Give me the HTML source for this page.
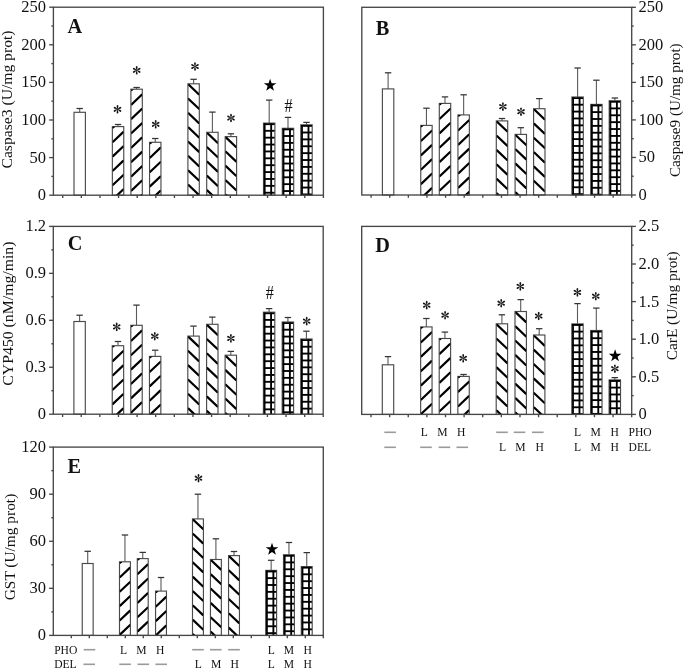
<!DOCTYPE html>
<html><head><meta charset="utf-8"><title>Figure</title>
<style>html,body{margin:0;padding:0;background:#fff;}svg{display:block;filter:grayscale(1) blur(0.3px);}</style>
</head><body><svg width="685" height="669" viewBox="0 0 685 669" font-family='"Liberation Serif", serif' fill="#111"><line x1="79.70" y1="112.30" x2="79.70" y2="108.50" stroke="#5a5a5a" stroke-width="1.1"/><line x1="76.50" y1="108.50" x2="82.90" y2="108.50" stroke="#333" stroke-width="1.25"/><rect x="74.00" y="112.30" width="11.40" height="82.90" fill="#fff" stroke="#4a4a4a" stroke-width="1.15"/><line x1="118.05" y1="126.60" x2="118.05" y2="124.50" stroke="#5a5a5a" stroke-width="1.1"/><line x1="114.85" y1="124.50" x2="121.25" y2="124.50" stroke="#333" stroke-width="1.25"/><rect x="112.35" y="126.60" width="11.40" height="68.60" fill="#fff" stroke="#4a4a4a" stroke-width="1.15"/><clipPath id="c1"><rect x="112.65" y="126.80" width="10.80" height="68.40"/></clipPath><g clip-path="url(#c1)" stroke="#000" stroke-width="2.2" stroke-linecap="round"><line x1="113.05" y1="127.40" x2="123.15" y2="117.80"/><line x1="113.05" y1="141.75" x2="123.15" y2="132.16"/><line x1="113.05" y1="156.10" x2="123.15" y2="146.50"/><line x1="113.05" y1="170.45" x2="123.15" y2="160.85"/><line x1="113.05" y1="184.80" x2="123.15" y2="175.20"/><line x1="113.05" y1="199.15" x2="123.15" y2="189.55"/><line x1="113.05" y1="213.50" x2="123.15" y2="203.90"/></g><line x1="136.60" y1="89.20" x2="136.60" y2="87.50" stroke="#5a5a5a" stroke-width="1.1"/><line x1="133.40" y1="87.50" x2="139.80" y2="87.50" stroke="#333" stroke-width="1.25"/><rect x="130.90" y="89.20" width="11.40" height="106.00" fill="#fff" stroke="#4a4a4a" stroke-width="1.15"/><clipPath id="c2"><rect x="131.20" y="89.40" width="10.80" height="105.80"/></clipPath><g clip-path="url(#c2)" stroke="#000" stroke-width="2.2" stroke-linecap="round"><line x1="131.60" y1="90.00" x2="141.70" y2="80.41"/><line x1="131.60" y1="104.35" x2="141.70" y2="94.75"/><line x1="131.60" y1="118.70" x2="141.70" y2="109.10"/><line x1="131.60" y1="133.05" x2="141.70" y2="123.45"/><line x1="131.60" y1="147.40" x2="141.70" y2="137.80"/><line x1="131.60" y1="161.75" x2="141.70" y2="152.15"/><line x1="131.60" y1="176.10" x2="141.70" y2="166.50"/><line x1="131.60" y1="190.45" x2="141.70" y2="180.85"/><line x1="131.60" y1="204.80" x2="141.70" y2="195.20"/></g><line x1="155.25" y1="142.30" x2="155.25" y2="138.50" stroke="#5a5a5a" stroke-width="1.1"/><line x1="152.05" y1="138.50" x2="158.45" y2="138.50" stroke="#333" stroke-width="1.25"/><rect x="149.55" y="142.30" width="11.40" height="52.90" fill="#fff" stroke="#4a4a4a" stroke-width="1.15"/><clipPath id="c3"><rect x="149.85" y="142.50" width="10.80" height="52.70"/></clipPath><g clip-path="url(#c3)" stroke="#000" stroke-width="2.2" stroke-linecap="round"><line x1="150.25" y1="143.10" x2="160.35" y2="133.51"/><line x1="150.25" y1="157.45" x2="160.35" y2="147.86"/><line x1="150.25" y1="171.80" x2="160.35" y2="162.21"/><line x1="150.25" y1="186.15" x2="160.35" y2="176.56"/><line x1="150.25" y1="200.50" x2="160.35" y2="190.91"/><line x1="150.25" y1="214.85" x2="160.35" y2="205.25"/></g><line x1="193.60" y1="83.80" x2="193.60" y2="79.30" stroke="#5a5a5a" stroke-width="1.1"/><line x1="190.40" y1="79.30" x2="196.80" y2="79.30" stroke="#333" stroke-width="1.25"/><rect x="187.90" y="83.80" width="11.40" height="111.40" fill="#fff" stroke="#4a4a4a" stroke-width="1.15"/><clipPath id="c4"><rect x="188.20" y="84.00" width="10.80" height="111.20"/></clipPath><g clip-path="url(#c4)" stroke="#000" stroke-width="2.2" stroke-linecap="round"><line x1="188.60" y1="84.60" x2="198.70" y2="94.19"/><line x1="188.60" y1="98.95" x2="198.70" y2="108.54"/><line x1="188.60" y1="113.30" x2="198.70" y2="122.89"/><line x1="188.60" y1="127.65" x2="198.70" y2="137.24"/><line x1="188.60" y1="142.00" x2="198.70" y2="151.59"/><line x1="188.60" y1="156.35" x2="198.70" y2="165.94"/><line x1="188.60" y1="170.70" x2="198.70" y2="180.29"/><line x1="188.60" y1="185.05" x2="198.70" y2="194.64"/><line x1="188.60" y1="199.40" x2="198.70" y2="208.99"/><line x1="188.60" y1="213.75" x2="198.70" y2="223.34"/></g><line x1="212.40" y1="132.30" x2="212.40" y2="112.10" stroke="#5a5a5a" stroke-width="1.1"/><line x1="209.20" y1="112.10" x2="215.60" y2="112.10" stroke="#333" stroke-width="1.25"/><rect x="206.70" y="132.30" width="11.40" height="62.90" fill="#fff" stroke="#4a4a4a" stroke-width="1.15"/><clipPath id="c5"><rect x="207.00" y="132.50" width="10.80" height="62.70"/></clipPath><g clip-path="url(#c5)" stroke="#000" stroke-width="2.2" stroke-linecap="round"><line x1="207.40" y1="133.10" x2="217.50" y2="142.70"/><line x1="207.40" y1="147.45" x2="217.50" y2="157.05"/><line x1="207.40" y1="161.80" x2="217.50" y2="171.40"/><line x1="207.40" y1="176.15" x2="217.50" y2="185.75"/><line x1="207.40" y1="190.50" x2="217.50" y2="200.09"/><line x1="207.40" y1="204.85" x2="217.50" y2="214.44"/></g><line x1="230.90" y1="136.60" x2="230.90" y2="133.80" stroke="#5a5a5a" stroke-width="1.1"/><line x1="227.70" y1="133.80" x2="234.10" y2="133.80" stroke="#333" stroke-width="1.25"/><rect x="225.20" y="136.60" width="11.40" height="58.60" fill="#fff" stroke="#4a4a4a" stroke-width="1.15"/><clipPath id="c6"><rect x="225.50" y="136.80" width="10.80" height="58.40"/></clipPath><g clip-path="url(#c6)" stroke="#000" stroke-width="2.2" stroke-linecap="round"><line x1="225.90" y1="137.40" x2="236.00" y2="147.00"/><line x1="225.90" y1="151.75" x2="236.00" y2="161.34"/><line x1="225.90" y1="166.10" x2="236.00" y2="175.69"/><line x1="225.90" y1="180.45" x2="236.00" y2="190.04"/><line x1="225.90" y1="194.80" x2="236.00" y2="204.39"/><line x1="225.90" y1="209.15" x2="236.00" y2="218.74"/></g><line x1="269.20" y1="123.10" x2="269.20" y2="100.10" stroke="#5a5a5a" stroke-width="1.1"/><line x1="266.00" y1="100.10" x2="272.40" y2="100.10" stroke="#333" stroke-width="1.25"/><rect x="263.50" y="123.10" width="11.40" height="72.10" fill="#fff" stroke="#4a4a4a" stroke-width="1.15"/><clipPath id="c7"><rect x="263.80" y="123.30" width="10.80" height="71.90"/></clipPath><g clip-path="url(#c7)"><rect x="263.50" y="122.80" width="11.40" height="2.30" fill="#000"/><rect x="263.50" y="129.88" width="11.40" height="1.85" fill="#000"/><rect x="263.50" y="136.76" width="11.40" height="1.85" fill="#000"/><rect x="263.50" y="143.64" width="11.40" height="1.85" fill="#000"/><rect x="263.50" y="150.52" width="11.40" height="1.85" fill="#000"/><rect x="263.50" y="157.40" width="11.40" height="1.85" fill="#000"/><rect x="263.50" y="164.28" width="11.40" height="1.85" fill="#000"/><rect x="263.50" y="171.16" width="11.40" height="1.85" fill="#000"/><rect x="263.50" y="178.04" width="11.40" height="1.85" fill="#000"/><rect x="263.50" y="184.92" width="11.40" height="1.85" fill="#000"/><rect x="263.50" y="191.80" width="11.40" height="1.85" fill="#000"/><rect x="263.20" y="123.10" width="2.40" height="72.10" fill="#000"/><rect x="270.25" y="123.10" width="1.85" height="72.10" fill="#000"/></g><line x1="288.00" y1="128.30" x2="288.00" y2="117.40" stroke="#5a5a5a" stroke-width="1.1"/><line x1="284.80" y1="117.40" x2="291.20" y2="117.40" stroke="#333" stroke-width="1.25"/><rect x="282.30" y="128.30" width="11.40" height="66.90" fill="#fff" stroke="#4a4a4a" stroke-width="1.15"/><clipPath id="c8"><rect x="282.60" y="128.50" width="10.80" height="66.70"/></clipPath><g clip-path="url(#c8)"><rect x="282.30" y="128.00" width="11.40" height="2.30" fill="#000"/><rect x="282.30" y="135.08" width="11.40" height="1.85" fill="#000"/><rect x="282.30" y="141.96" width="11.40" height="1.85" fill="#000"/><rect x="282.30" y="148.84" width="11.40" height="1.85" fill="#000"/><rect x="282.30" y="155.72" width="11.40" height="1.85" fill="#000"/><rect x="282.30" y="162.60" width="11.40" height="1.85" fill="#000"/><rect x="282.30" y="169.48" width="11.40" height="1.85" fill="#000"/><rect x="282.30" y="176.36" width="11.40" height="1.85" fill="#000"/><rect x="282.30" y="183.24" width="11.40" height="1.85" fill="#000"/><rect x="282.30" y="190.12" width="11.40" height="1.85" fill="#000"/><rect x="282.00" y="128.30" width="2.40" height="66.90" fill="#000"/><rect x="289.05" y="128.30" width="1.85" height="66.90" fill="#000"/></g><line x1="306.50" y1="124.80" x2="306.50" y2="122.40" stroke="#5a5a5a" stroke-width="1.1"/><line x1="303.30" y1="122.40" x2="309.70" y2="122.40" stroke="#333" stroke-width="1.25"/><rect x="300.80" y="124.80" width="11.40" height="70.40" fill="#fff" stroke="#4a4a4a" stroke-width="1.15"/><clipPath id="c9"><rect x="301.10" y="125.00" width="10.80" height="70.20"/></clipPath><g clip-path="url(#c9)"><rect x="300.80" y="124.50" width="11.40" height="2.30" fill="#000"/><rect x="300.80" y="131.58" width="11.40" height="1.85" fill="#000"/><rect x="300.80" y="138.46" width="11.40" height="1.85" fill="#000"/><rect x="300.80" y="145.34" width="11.40" height="1.85" fill="#000"/><rect x="300.80" y="152.22" width="11.40" height="1.85" fill="#000"/><rect x="300.80" y="159.10" width="11.40" height="1.85" fill="#000"/><rect x="300.80" y="165.98" width="11.40" height="1.85" fill="#000"/><rect x="300.80" y="172.86" width="11.40" height="1.85" fill="#000"/><rect x="300.80" y="179.74" width="11.40" height="1.85" fill="#000"/><rect x="300.80" y="186.62" width="11.40" height="1.85" fill="#000"/><rect x="300.80" y="193.50" width="11.40" height="1.85" fill="#000"/><rect x="300.50" y="124.80" width="2.40" height="70.40" fill="#000"/><rect x="307.55" y="124.80" width="1.85" height="70.40" fill="#000"/></g><rect x="53.40" y="7.20" width="270.00" height="188.00" fill="none" stroke="#474747" stroke-width="1.35"/><line x1="53.40" y1="195.20" x2="49.20" y2="195.20" stroke="#474747" stroke-width="1.35"/><text x="46.10" y="200.20" text-anchor="end" font-size="16.5">0</text><line x1="53.40" y1="176.40" x2="51.40" y2="176.40" stroke="#474747" stroke-width="1.35"/><line x1="53.40" y1="157.60" x2="49.20" y2="157.60" stroke="#474747" stroke-width="1.35"/><text x="46.10" y="162.60" text-anchor="end" font-size="16.5">50</text><line x1="53.40" y1="138.80" x2="51.40" y2="138.80" stroke="#474747" stroke-width="1.35"/><line x1="53.40" y1="120.00" x2="49.20" y2="120.00" stroke="#474747" stroke-width="1.35"/><text x="46.10" y="125.00" text-anchor="end" font-size="16.5">100</text><line x1="53.40" y1="101.20" x2="51.40" y2="101.20" stroke="#474747" stroke-width="1.35"/><line x1="53.40" y1="82.40" x2="49.20" y2="82.40" stroke="#474747" stroke-width="1.35"/><text x="46.10" y="87.40" text-anchor="end" font-size="16.5">150</text><line x1="53.40" y1="63.60" x2="51.40" y2="63.60" stroke="#474747" stroke-width="1.35"/><line x1="53.40" y1="44.80" x2="49.20" y2="44.80" stroke="#474747" stroke-width="1.35"/><text x="46.10" y="49.80" text-anchor="end" font-size="16.5">200</text><line x1="53.40" y1="26.00" x2="51.40" y2="26.00" stroke="#474747" stroke-width="1.35"/><line x1="53.40" y1="7.20" x2="49.20" y2="7.20" stroke="#474747" stroke-width="1.35"/><text x="46.10" y="12.20" text-anchor="end" font-size="16.5">250</text><line x1="62.71" y1="195.20" x2="62.71" y2="198.00" stroke="#474747" stroke-width="1.35"/><line x1="81.33" y1="195.20" x2="81.33" y2="198.00" stroke="#474747" stroke-width="1.35"/><line x1="99.95" y1="195.20" x2="99.95" y2="198.00" stroke="#474747" stroke-width="1.35"/><line x1="118.57" y1="195.20" x2="118.57" y2="198.00" stroke="#474747" stroke-width="1.35"/><line x1="137.19" y1="195.20" x2="137.19" y2="198.00" stroke="#474747" stroke-width="1.35"/><line x1="155.81" y1="195.20" x2="155.81" y2="198.00" stroke="#474747" stroke-width="1.35"/><line x1="174.43" y1="195.20" x2="174.43" y2="198.00" stroke="#474747" stroke-width="1.35"/><line x1="193.05" y1="195.20" x2="193.05" y2="198.00" stroke="#474747" stroke-width="1.35"/><line x1="211.67" y1="195.20" x2="211.67" y2="198.00" stroke="#474747" stroke-width="1.35"/><line x1="230.29" y1="195.20" x2="230.29" y2="198.00" stroke="#474747" stroke-width="1.35"/><line x1="248.91" y1="195.20" x2="248.91" y2="198.00" stroke="#474747" stroke-width="1.35"/><line x1="267.53" y1="195.20" x2="267.53" y2="198.00" stroke="#474747" stroke-width="1.35"/><line x1="286.15" y1="195.20" x2="286.15" y2="198.00" stroke="#474747" stroke-width="1.35"/><line x1="304.77" y1="195.20" x2="304.77" y2="198.00" stroke="#474747" stroke-width="1.35"/><line x1="323.40" y1="195.20" x2="323.40" y2="198.00" stroke="#474747" stroke-width="1.35"/><text x="67.50" y="32.90" font-size="20.3" font-weight="bold">A</text><text transform="translate(8.80,99.50) rotate(-90)" text-anchor="middle" font-size="15.6" textLength="138.0" lengthAdjust="spacingAndGlyphs" y="3.2">Caspase3 (U/mg prot)</text><g transform="translate(117.50,109.30)" fill="#151515"><path d="M -0.3 -0.6 L -0.85 -2.6 Q -1.15 -4.3 0 -4.3 Q 1.15 -4.3 0.85 -2.6 L 0.3 -0.6 Z" transform="rotate(0)"/><path d="M -0.3 -0.6 L -0.85 -2.6 Q -1.15 -4.3 0 -4.3 Q 1.15 -4.3 0.85 -2.6 L 0.3 -0.6 Z" transform="rotate(60)"/><path d="M -0.3 -0.6 L -0.85 -2.6 Q -1.15 -4.3 0 -4.3 Q 1.15 -4.3 0.85 -2.6 L 0.3 -0.6 Z" transform="rotate(120)"/><path d="M -0.3 -0.6 L -0.85 -2.6 Q -1.15 -4.3 0 -4.3 Q 1.15 -4.3 0.85 -2.6 L 0.3 -0.6 Z" transform="rotate(180)"/><path d="M -0.3 -0.6 L -0.85 -2.6 Q -1.15 -4.3 0 -4.3 Q 1.15 -4.3 0.85 -2.6 L 0.3 -0.6 Z" transform="rotate(240)"/><path d="M -0.3 -0.6 L -0.85 -2.6 Q -1.15 -4.3 0 -4.3 Q 1.15 -4.3 0.85 -2.6 L 0.3 -0.6 Z" transform="rotate(300)"/><circle r="0.8"/></g><g transform="translate(136.70,70.30)" fill="#151515"><path d="M -0.3 -0.6 L -0.85 -2.6 Q -1.15 -4.3 0 -4.3 Q 1.15 -4.3 0.85 -2.6 L 0.3 -0.6 Z" transform="rotate(0)"/><path d="M -0.3 -0.6 L -0.85 -2.6 Q -1.15 -4.3 0 -4.3 Q 1.15 -4.3 0.85 -2.6 L 0.3 -0.6 Z" transform="rotate(60)"/><path d="M -0.3 -0.6 L -0.85 -2.6 Q -1.15 -4.3 0 -4.3 Q 1.15 -4.3 0.85 -2.6 L 0.3 -0.6 Z" transform="rotate(120)"/><path d="M -0.3 -0.6 L -0.85 -2.6 Q -1.15 -4.3 0 -4.3 Q 1.15 -4.3 0.85 -2.6 L 0.3 -0.6 Z" transform="rotate(180)"/><path d="M -0.3 -0.6 L -0.85 -2.6 Q -1.15 -4.3 0 -4.3 Q 1.15 -4.3 0.85 -2.6 L 0.3 -0.6 Z" transform="rotate(240)"/><path d="M -0.3 -0.6 L -0.85 -2.6 Q -1.15 -4.3 0 -4.3 Q 1.15 -4.3 0.85 -2.6 L 0.3 -0.6 Z" transform="rotate(300)"/><circle r="0.8"/></g><g transform="translate(155.70,124.30)" fill="#151515"><path d="M -0.3 -0.6 L -0.85 -2.6 Q -1.15 -4.3 0 -4.3 Q 1.15 -4.3 0.85 -2.6 L 0.3 -0.6 Z" transform="rotate(0)"/><path d="M -0.3 -0.6 L -0.85 -2.6 Q -1.15 -4.3 0 -4.3 Q 1.15 -4.3 0.85 -2.6 L 0.3 -0.6 Z" transform="rotate(60)"/><path d="M -0.3 -0.6 L -0.85 -2.6 Q -1.15 -4.3 0 -4.3 Q 1.15 -4.3 0.85 -2.6 L 0.3 -0.6 Z" transform="rotate(120)"/><path d="M -0.3 -0.6 L -0.85 -2.6 Q -1.15 -4.3 0 -4.3 Q 1.15 -4.3 0.85 -2.6 L 0.3 -0.6 Z" transform="rotate(180)"/><path d="M -0.3 -0.6 L -0.85 -2.6 Q -1.15 -4.3 0 -4.3 Q 1.15 -4.3 0.85 -2.6 L 0.3 -0.6 Z" transform="rotate(240)"/><path d="M -0.3 -0.6 L -0.85 -2.6 Q -1.15 -4.3 0 -4.3 Q 1.15 -4.3 0.85 -2.6 L 0.3 -0.6 Z" transform="rotate(300)"/><circle r="0.8"/></g><g transform="translate(195.00,66.50)" fill="#151515"><path d="M -0.3 -0.6 L -0.85 -2.6 Q -1.15 -4.3 0 -4.3 Q 1.15 -4.3 0.85 -2.6 L 0.3 -0.6 Z" transform="rotate(0)"/><path d="M -0.3 -0.6 L -0.85 -2.6 Q -1.15 -4.3 0 -4.3 Q 1.15 -4.3 0.85 -2.6 L 0.3 -0.6 Z" transform="rotate(60)"/><path d="M -0.3 -0.6 L -0.85 -2.6 Q -1.15 -4.3 0 -4.3 Q 1.15 -4.3 0.85 -2.6 L 0.3 -0.6 Z" transform="rotate(120)"/><path d="M -0.3 -0.6 L -0.85 -2.6 Q -1.15 -4.3 0 -4.3 Q 1.15 -4.3 0.85 -2.6 L 0.3 -0.6 Z" transform="rotate(180)"/><path d="M -0.3 -0.6 L -0.85 -2.6 Q -1.15 -4.3 0 -4.3 Q 1.15 -4.3 0.85 -2.6 L 0.3 -0.6 Z" transform="rotate(240)"/><path d="M -0.3 -0.6 L -0.85 -2.6 Q -1.15 -4.3 0 -4.3 Q 1.15 -4.3 0.85 -2.6 L 0.3 -0.6 Z" transform="rotate(300)"/><circle r="0.8"/></g><g transform="translate(231.00,118.00)" fill="#151515"><path d="M -0.3 -0.6 L -0.85 -2.6 Q -1.15 -4.3 0 -4.3 Q 1.15 -4.3 0.85 -2.6 L 0.3 -0.6 Z" transform="rotate(0)"/><path d="M -0.3 -0.6 L -0.85 -2.6 Q -1.15 -4.3 0 -4.3 Q 1.15 -4.3 0.85 -2.6 L 0.3 -0.6 Z" transform="rotate(60)"/><path d="M -0.3 -0.6 L -0.85 -2.6 Q -1.15 -4.3 0 -4.3 Q 1.15 -4.3 0.85 -2.6 L 0.3 -0.6 Z" transform="rotate(120)"/><path d="M -0.3 -0.6 L -0.85 -2.6 Q -1.15 -4.3 0 -4.3 Q 1.15 -4.3 0.85 -2.6 L 0.3 -0.6 Z" transform="rotate(180)"/><path d="M -0.3 -0.6 L -0.85 -2.6 Q -1.15 -4.3 0 -4.3 Q 1.15 -4.3 0.85 -2.6 L 0.3 -0.6 Z" transform="rotate(240)"/><path d="M -0.3 -0.6 L -0.85 -2.6 Q -1.15 -4.3 0 -4.3 Q 1.15 -4.3 0.85 -2.6 L 0.3 -0.6 Z" transform="rotate(300)"/><circle r="0.8"/></g><polygon points="270.10,78.70 271.63,83.20 276.38,83.26 272.57,86.10 273.98,90.64 270.10,87.90 266.22,90.64 267.63,86.10 263.82,83.26 268.57,83.20" fill="#000"/><text transform="translate(288.50,111.60) scale(0.86,1)" text-anchor="middle" font-size="18.8">#</text><line x1="388.10" y1="88.90" x2="388.10" y2="72.80" stroke="#5a5a5a" stroke-width="1.1"/><line x1="384.90" y1="72.80" x2="391.30" y2="72.80" stroke="#333" stroke-width="1.25"/><rect x="382.40" y="88.90" width="11.40" height="106.10" fill="#fff" stroke="#4a4a4a" stroke-width="1.15"/><line x1="426.45" y1="125.40" x2="426.45" y2="108.20" stroke="#5a5a5a" stroke-width="1.1"/><line x1="423.25" y1="108.20" x2="429.65" y2="108.20" stroke="#333" stroke-width="1.25"/><rect x="420.75" y="125.40" width="11.40" height="69.60" fill="#fff" stroke="#4a4a4a" stroke-width="1.15"/><clipPath id="c10"><rect x="421.05" y="125.60" width="10.80" height="69.40"/></clipPath><g clip-path="url(#c10)" stroke="#000" stroke-width="2.2" stroke-linecap="round"><line x1="421.45" y1="126.20" x2="431.55" y2="116.61"/><line x1="421.45" y1="140.55" x2="431.55" y2="130.96"/><line x1="421.45" y1="154.90" x2="431.55" y2="145.31"/><line x1="421.45" y1="169.25" x2="431.55" y2="159.66"/><line x1="421.45" y1="183.60" x2="431.55" y2="174.01"/><line x1="421.45" y1="197.95" x2="431.55" y2="188.36"/><line x1="421.45" y1="212.30" x2="431.55" y2="202.71"/></g><line x1="445.00" y1="103.40" x2="445.00" y2="96.90" stroke="#5a5a5a" stroke-width="1.1"/><line x1="441.80" y1="96.90" x2="448.20" y2="96.90" stroke="#333" stroke-width="1.25"/><rect x="439.30" y="103.40" width="11.40" height="91.60" fill="#fff" stroke="#4a4a4a" stroke-width="1.15"/><clipPath id="c11"><rect x="439.60" y="103.60" width="10.80" height="91.40"/></clipPath><g clip-path="url(#c11)" stroke="#000" stroke-width="2.2" stroke-linecap="round"><line x1="440.00" y1="104.20" x2="450.10" y2="94.61"/><line x1="440.00" y1="118.55" x2="450.10" y2="108.96"/><line x1="440.00" y1="132.90" x2="450.10" y2="123.31"/><line x1="440.00" y1="147.25" x2="450.10" y2="137.66"/><line x1="440.00" y1="161.60" x2="450.10" y2="152.01"/><line x1="440.00" y1="175.95" x2="450.10" y2="166.36"/><line x1="440.00" y1="190.30" x2="450.10" y2="180.71"/><line x1="440.00" y1="204.65" x2="450.10" y2="195.06"/></g><line x1="463.65" y1="114.90" x2="463.65" y2="94.80" stroke="#5a5a5a" stroke-width="1.1"/><line x1="460.45" y1="94.80" x2="466.85" y2="94.80" stroke="#333" stroke-width="1.25"/><rect x="457.95" y="114.90" width="11.40" height="80.10" fill="#fff" stroke="#4a4a4a" stroke-width="1.15"/><clipPath id="c12"><rect x="458.25" y="115.10" width="10.80" height="79.90"/></clipPath><g clip-path="url(#c12)" stroke="#000" stroke-width="2.2" stroke-linecap="round"><line x1="458.65" y1="115.70" x2="468.75" y2="106.11"/><line x1="458.65" y1="130.05" x2="468.75" y2="120.46"/><line x1="458.65" y1="144.40" x2="468.75" y2="134.81"/><line x1="458.65" y1="158.75" x2="468.75" y2="149.16"/><line x1="458.65" y1="173.10" x2="468.75" y2="163.51"/><line x1="458.65" y1="187.45" x2="468.75" y2="177.86"/><line x1="458.65" y1="201.80" x2="468.75" y2="192.21"/><line x1="458.65" y1="216.15" x2="468.75" y2="206.56"/></g><line x1="502.00" y1="120.90" x2="502.00" y2="118.50" stroke="#5a5a5a" stroke-width="1.1"/><line x1="498.80" y1="118.50" x2="505.20" y2="118.50" stroke="#333" stroke-width="1.25"/><rect x="496.30" y="120.90" width="11.40" height="74.10" fill="#fff" stroke="#4a4a4a" stroke-width="1.15"/><clipPath id="c13"><rect x="496.60" y="121.10" width="10.80" height="73.90"/></clipPath><g clip-path="url(#c13)" stroke="#000" stroke-width="2.2" stroke-linecap="round"><line x1="497.00" y1="121.70" x2="507.10" y2="131.29"/><line x1="497.00" y1="136.05" x2="507.10" y2="145.64"/><line x1="497.00" y1="150.40" x2="507.10" y2="159.99"/><line x1="497.00" y1="164.75" x2="507.10" y2="174.34"/><line x1="497.00" y1="179.10" x2="507.10" y2="188.69"/><line x1="497.00" y1="193.45" x2="507.10" y2="203.04"/><line x1="497.00" y1="207.80" x2="507.10" y2="217.39"/></g><line x1="520.80" y1="134.40" x2="520.80" y2="127.70" stroke="#5a5a5a" stroke-width="1.1"/><line x1="517.60" y1="127.70" x2="524.00" y2="127.70" stroke="#333" stroke-width="1.25"/><rect x="515.10" y="134.40" width="11.40" height="60.60" fill="#fff" stroke="#4a4a4a" stroke-width="1.15"/><clipPath id="c14"><rect x="515.40" y="134.60" width="10.80" height="60.40"/></clipPath><g clip-path="url(#c14)" stroke="#000" stroke-width="2.2" stroke-linecap="round"><line x1="515.80" y1="135.20" x2="525.90" y2="144.80"/><line x1="515.80" y1="149.55" x2="525.90" y2="159.15"/><line x1="515.80" y1="163.90" x2="525.90" y2="173.50"/><line x1="515.80" y1="178.25" x2="525.90" y2="187.85"/><line x1="515.80" y1="192.60" x2="525.90" y2="202.20"/><line x1="515.80" y1="206.95" x2="525.90" y2="216.55"/></g><line x1="539.30" y1="108.70" x2="539.30" y2="98.60" stroke="#5a5a5a" stroke-width="1.1"/><line x1="536.10" y1="98.60" x2="542.50" y2="98.60" stroke="#333" stroke-width="1.25"/><rect x="533.60" y="108.70" width="11.40" height="86.30" fill="#fff" stroke="#4a4a4a" stroke-width="1.15"/><clipPath id="c15"><rect x="533.90" y="108.90" width="10.80" height="86.10"/></clipPath><g clip-path="url(#c15)" stroke="#000" stroke-width="2.2" stroke-linecap="round"><line x1="534.30" y1="109.50" x2="544.40" y2="119.10"/><line x1="534.30" y1="123.85" x2="544.40" y2="133.45"/><line x1="534.30" y1="138.20" x2="544.40" y2="147.80"/><line x1="534.30" y1="152.55" x2="544.40" y2="162.15"/><line x1="534.30" y1="166.90" x2="544.40" y2="176.50"/><line x1="534.30" y1="181.25" x2="544.40" y2="190.84"/><line x1="534.30" y1="195.60" x2="544.40" y2="205.19"/><line x1="534.30" y1="209.95" x2="544.40" y2="219.54"/></g><line x1="577.60" y1="97.00" x2="577.60" y2="68.00" stroke="#5a5a5a" stroke-width="1.1"/><line x1="574.40" y1="68.00" x2="580.80" y2="68.00" stroke="#333" stroke-width="1.25"/><rect x="571.90" y="97.00" width="11.40" height="98.00" fill="#fff" stroke="#4a4a4a" stroke-width="1.15"/><clipPath id="c16"><rect x="572.20" y="97.20" width="10.80" height="97.80"/></clipPath><g clip-path="url(#c16)"><rect x="571.90" y="96.70" width="11.40" height="2.30" fill="#000"/><rect x="571.90" y="103.78" width="11.40" height="1.85" fill="#000"/><rect x="571.90" y="110.66" width="11.40" height="1.85" fill="#000"/><rect x="571.90" y="117.54" width="11.40" height="1.85" fill="#000"/><rect x="571.90" y="124.42" width="11.40" height="1.85" fill="#000"/><rect x="571.90" y="131.30" width="11.40" height="1.85" fill="#000"/><rect x="571.90" y="138.18" width="11.40" height="1.85" fill="#000"/><rect x="571.90" y="145.06" width="11.40" height="1.85" fill="#000"/><rect x="571.90" y="151.94" width="11.40" height="1.85" fill="#000"/><rect x="571.90" y="158.82" width="11.40" height="1.85" fill="#000"/><rect x="571.90" y="165.70" width="11.40" height="1.85" fill="#000"/><rect x="571.90" y="172.58" width="11.40" height="1.85" fill="#000"/><rect x="571.90" y="179.46" width="11.40" height="1.85" fill="#000"/><rect x="571.90" y="186.34" width="11.40" height="1.85" fill="#000"/><rect x="571.90" y="193.22" width="11.40" height="1.85" fill="#000"/><rect x="571.60" y="97.00" width="2.40" height="98.00" fill="#000"/><rect x="578.65" y="97.00" width="1.85" height="98.00" fill="#000"/></g><line x1="596.40" y1="104.40" x2="596.40" y2="80.20" stroke="#5a5a5a" stroke-width="1.1"/><line x1="593.20" y1="80.20" x2="599.60" y2="80.20" stroke="#333" stroke-width="1.25"/><rect x="590.70" y="104.40" width="11.40" height="90.60" fill="#fff" stroke="#4a4a4a" stroke-width="1.15"/><clipPath id="c17"><rect x="591.00" y="104.60" width="10.80" height="90.40"/></clipPath><g clip-path="url(#c17)"><rect x="590.70" y="104.10" width="11.40" height="2.30" fill="#000"/><rect x="590.70" y="111.18" width="11.40" height="1.85" fill="#000"/><rect x="590.70" y="118.06" width="11.40" height="1.85" fill="#000"/><rect x="590.70" y="124.94" width="11.40" height="1.85" fill="#000"/><rect x="590.70" y="131.82" width="11.40" height="1.85" fill="#000"/><rect x="590.70" y="138.70" width="11.40" height="1.85" fill="#000"/><rect x="590.70" y="145.58" width="11.40" height="1.85" fill="#000"/><rect x="590.70" y="152.46" width="11.40" height="1.85" fill="#000"/><rect x="590.70" y="159.34" width="11.40" height="1.85" fill="#000"/><rect x="590.70" y="166.22" width="11.40" height="1.85" fill="#000"/><rect x="590.70" y="173.10" width="11.40" height="1.85" fill="#000"/><rect x="590.70" y="179.98" width="11.40" height="1.85" fill="#000"/><rect x="590.70" y="186.86" width="11.40" height="1.85" fill="#000"/><rect x="590.70" y="193.74" width="11.40" height="1.85" fill="#000"/><rect x="590.40" y="104.40" width="2.40" height="90.60" fill="#000"/><rect x="597.45" y="104.40" width="1.85" height="90.60" fill="#000"/></g><line x1="614.90" y1="100.70" x2="614.90" y2="98.00" stroke="#5a5a5a" stroke-width="1.1"/><line x1="611.70" y1="98.00" x2="618.10" y2="98.00" stroke="#333" stroke-width="1.25"/><rect x="609.20" y="100.70" width="11.40" height="94.30" fill="#fff" stroke="#4a4a4a" stroke-width="1.15"/><clipPath id="c18"><rect x="609.50" y="100.90" width="10.80" height="94.10"/></clipPath><g clip-path="url(#c18)"><rect x="609.20" y="100.40" width="11.40" height="2.30" fill="#000"/><rect x="609.20" y="107.48" width="11.40" height="1.85" fill="#000"/><rect x="609.20" y="114.36" width="11.40" height="1.85" fill="#000"/><rect x="609.20" y="121.24" width="11.40" height="1.85" fill="#000"/><rect x="609.20" y="128.12" width="11.40" height="1.85" fill="#000"/><rect x="609.20" y="135.00" width="11.40" height="1.85" fill="#000"/><rect x="609.20" y="141.88" width="11.40" height="1.85" fill="#000"/><rect x="609.20" y="148.76" width="11.40" height="1.85" fill="#000"/><rect x="609.20" y="155.64" width="11.40" height="1.85" fill="#000"/><rect x="609.20" y="162.52" width="11.40" height="1.85" fill="#000"/><rect x="609.20" y="169.40" width="11.40" height="1.85" fill="#000"/><rect x="609.20" y="176.28" width="11.40" height="1.85" fill="#000"/><rect x="609.20" y="183.16" width="11.40" height="1.85" fill="#000"/><rect x="609.20" y="190.04" width="11.40" height="1.85" fill="#000"/><rect x="608.90" y="100.70" width="2.40" height="94.30" fill="#000"/><rect x="615.95" y="100.70" width="1.85" height="94.30" fill="#000"/></g><rect x="361.80" y="7.30" width="269.90" height="187.70" fill="none" stroke="#474747" stroke-width="1.35"/><line x1="631.70" y1="195.00" x2="635.90" y2="195.00" stroke="#474747" stroke-width="1.35"/><text x="638.50" y="200.00" font-size="16.5">0</text><line x1="631.70" y1="176.23" x2="633.70" y2="176.23" stroke="#474747" stroke-width="1.35"/><line x1="631.70" y1="157.46" x2="635.90" y2="157.46" stroke="#474747" stroke-width="1.35"/><text x="638.50" y="162.46" font-size="16.5">50</text><line x1="631.70" y1="138.69" x2="633.70" y2="138.69" stroke="#474747" stroke-width="1.35"/><line x1="631.70" y1="119.92" x2="635.90" y2="119.92" stroke="#474747" stroke-width="1.35"/><text x="638.50" y="124.92" font-size="16.5">100</text><line x1="631.70" y1="101.15" x2="633.70" y2="101.15" stroke="#474747" stroke-width="1.35"/><line x1="631.70" y1="82.38" x2="635.90" y2="82.38" stroke="#474747" stroke-width="1.35"/><text x="638.50" y="87.38" font-size="16.5">150</text><line x1="631.70" y1="63.61" x2="633.70" y2="63.61" stroke="#474747" stroke-width="1.35"/><line x1="631.70" y1="44.84" x2="635.90" y2="44.84" stroke="#474747" stroke-width="1.35"/><text x="638.50" y="49.84" font-size="16.5">200</text><line x1="631.70" y1="26.07" x2="633.70" y2="26.07" stroke="#474747" stroke-width="1.35"/><line x1="631.70" y1="7.30" x2="635.90" y2="7.30" stroke="#474747" stroke-width="1.35"/><text x="638.50" y="12.30" font-size="16.5">250</text><line x1="371.11" y1="195.00" x2="371.11" y2="197.80" stroke="#474747" stroke-width="1.35"/><line x1="389.73" y1="195.00" x2="389.73" y2="197.80" stroke="#474747" stroke-width="1.35"/><line x1="408.35" y1="195.00" x2="408.35" y2="197.80" stroke="#474747" stroke-width="1.35"/><line x1="426.97" y1="195.00" x2="426.97" y2="197.80" stroke="#474747" stroke-width="1.35"/><line x1="445.59" y1="195.00" x2="445.59" y2="197.80" stroke="#474747" stroke-width="1.35"/><line x1="464.21" y1="195.00" x2="464.21" y2="197.80" stroke="#474747" stroke-width="1.35"/><line x1="482.83" y1="195.00" x2="482.83" y2="197.80" stroke="#474747" stroke-width="1.35"/><line x1="501.45" y1="195.00" x2="501.45" y2="197.80" stroke="#474747" stroke-width="1.35"/><line x1="520.07" y1="195.00" x2="520.07" y2="197.80" stroke="#474747" stroke-width="1.35"/><line x1="538.69" y1="195.00" x2="538.69" y2="197.80" stroke="#474747" stroke-width="1.35"/><line x1="557.31" y1="195.00" x2="557.31" y2="197.80" stroke="#474747" stroke-width="1.35"/><line x1="575.93" y1="195.00" x2="575.93" y2="197.80" stroke="#474747" stroke-width="1.35"/><line x1="594.55" y1="195.00" x2="594.55" y2="197.80" stroke="#474747" stroke-width="1.35"/><line x1="613.17" y1="195.00" x2="613.17" y2="197.80" stroke="#474747" stroke-width="1.35"/><line x1="631.70" y1="195.00" x2="631.70" y2="197.80" stroke="#474747" stroke-width="1.35"/><text x="375.80" y="35.00" font-size="20.3" font-weight="bold">B</text><text transform="translate(676.60,110.20) rotate(-90)" text-anchor="middle" font-size="15.6" textLength="133.7" lengthAdjust="spacingAndGlyphs" y="3.2">Caspase9 (U/mg prot)</text><g transform="translate(502.90,106.60)" fill="#151515"><path d="M -0.3 -0.6 L -0.85 -2.6 Q -1.15 -4.3 0 -4.3 Q 1.15 -4.3 0.85 -2.6 L 0.3 -0.6 Z" transform="rotate(0)"/><path d="M -0.3 -0.6 L -0.85 -2.6 Q -1.15 -4.3 0 -4.3 Q 1.15 -4.3 0.85 -2.6 L 0.3 -0.6 Z" transform="rotate(60)"/><path d="M -0.3 -0.6 L -0.85 -2.6 Q -1.15 -4.3 0 -4.3 Q 1.15 -4.3 0.85 -2.6 L 0.3 -0.6 Z" transform="rotate(120)"/><path d="M -0.3 -0.6 L -0.85 -2.6 Q -1.15 -4.3 0 -4.3 Q 1.15 -4.3 0.85 -2.6 L 0.3 -0.6 Z" transform="rotate(180)"/><path d="M -0.3 -0.6 L -0.85 -2.6 Q -1.15 -4.3 0 -4.3 Q 1.15 -4.3 0.85 -2.6 L 0.3 -0.6 Z" transform="rotate(240)"/><path d="M -0.3 -0.6 L -0.85 -2.6 Q -1.15 -4.3 0 -4.3 Q 1.15 -4.3 0.85 -2.6 L 0.3 -0.6 Z" transform="rotate(300)"/><circle r="0.8"/></g><g transform="translate(521.00,111.70)" fill="#151515"><path d="M -0.3 -0.6 L -0.85 -2.6 Q -1.15 -4.3 0 -4.3 Q 1.15 -4.3 0.85 -2.6 L 0.3 -0.6 Z" transform="rotate(0)"/><path d="M -0.3 -0.6 L -0.85 -2.6 Q -1.15 -4.3 0 -4.3 Q 1.15 -4.3 0.85 -2.6 L 0.3 -0.6 Z" transform="rotate(60)"/><path d="M -0.3 -0.6 L -0.85 -2.6 Q -1.15 -4.3 0 -4.3 Q 1.15 -4.3 0.85 -2.6 L 0.3 -0.6 Z" transform="rotate(120)"/><path d="M -0.3 -0.6 L -0.85 -2.6 Q -1.15 -4.3 0 -4.3 Q 1.15 -4.3 0.85 -2.6 L 0.3 -0.6 Z" transform="rotate(180)"/><path d="M -0.3 -0.6 L -0.85 -2.6 Q -1.15 -4.3 0 -4.3 Q 1.15 -4.3 0.85 -2.6 L 0.3 -0.6 Z" transform="rotate(240)"/><path d="M -0.3 -0.6 L -0.85 -2.6 Q -1.15 -4.3 0 -4.3 Q 1.15 -4.3 0.85 -2.6 L 0.3 -0.6 Z" transform="rotate(300)"/><circle r="0.8"/></g><line x1="79.60" y1="321.50" x2="79.60" y2="315.20" stroke="#5a5a5a" stroke-width="1.1"/><line x1="76.40" y1="315.20" x2="82.80" y2="315.20" stroke="#333" stroke-width="1.25"/><rect x="73.90" y="321.50" width="11.40" height="92.70" fill="#fff" stroke="#4a4a4a" stroke-width="1.15"/><line x1="117.95" y1="345.70" x2="117.95" y2="341.50" stroke="#5a5a5a" stroke-width="1.1"/><line x1="114.75" y1="341.50" x2="121.15" y2="341.50" stroke="#333" stroke-width="1.25"/><rect x="112.25" y="345.70" width="11.40" height="68.50" fill="#fff" stroke="#4a4a4a" stroke-width="1.15"/><clipPath id="c19"><rect x="112.55" y="345.90" width="10.80" height="68.30"/></clipPath><g clip-path="url(#c19)" stroke="#000" stroke-width="2.2" stroke-linecap="round"><line x1="112.95" y1="346.50" x2="123.05" y2="336.90"/><line x1="112.95" y1="360.85" x2="123.05" y2="351.25"/><line x1="112.95" y1="375.20" x2="123.05" y2="365.61"/><line x1="112.95" y1="389.55" x2="123.05" y2="379.96"/><line x1="112.95" y1="403.90" x2="123.05" y2="394.31"/><line x1="112.95" y1="418.25" x2="123.05" y2="408.66"/><line x1="112.95" y1="432.60" x2="123.05" y2="423.01"/></g><line x1="136.50" y1="325.30" x2="136.50" y2="305.10" stroke="#5a5a5a" stroke-width="1.1"/><line x1="133.30" y1="305.10" x2="139.70" y2="305.10" stroke="#333" stroke-width="1.25"/><rect x="130.80" y="325.30" width="11.40" height="88.90" fill="#fff" stroke="#4a4a4a" stroke-width="1.15"/><clipPath id="c20"><rect x="131.10" y="325.50" width="10.80" height="88.70"/></clipPath><g clip-path="url(#c20)" stroke="#000" stroke-width="2.2" stroke-linecap="round"><line x1="131.50" y1="326.10" x2="141.60" y2="316.51"/><line x1="131.50" y1="340.45" x2="141.60" y2="330.86"/><line x1="131.50" y1="354.80" x2="141.60" y2="345.21"/><line x1="131.50" y1="369.15" x2="141.60" y2="359.56"/><line x1="131.50" y1="383.50" x2="141.60" y2="373.91"/><line x1="131.50" y1="397.85" x2="141.60" y2="388.26"/><line x1="131.50" y1="412.20" x2="141.60" y2="402.61"/><line x1="131.50" y1="426.55" x2="141.60" y2="416.96"/></g><line x1="155.15" y1="356.40" x2="155.15" y2="350.20" stroke="#5a5a5a" stroke-width="1.1"/><line x1="151.95" y1="350.20" x2="158.35" y2="350.20" stroke="#333" stroke-width="1.25"/><rect x="149.45" y="356.40" width="11.40" height="57.80" fill="#fff" stroke="#4a4a4a" stroke-width="1.15"/><clipPath id="c21"><rect x="149.75" y="356.60" width="10.80" height="57.60"/></clipPath><g clip-path="url(#c21)" stroke="#000" stroke-width="2.2" stroke-linecap="round"><line x1="150.15" y1="357.20" x2="160.25" y2="347.61"/><line x1="150.15" y1="371.55" x2="160.25" y2="361.96"/><line x1="150.15" y1="385.90" x2="160.25" y2="376.31"/><line x1="150.15" y1="400.25" x2="160.25" y2="390.66"/><line x1="150.15" y1="414.60" x2="160.25" y2="405.01"/><line x1="150.15" y1="428.95" x2="160.25" y2="419.36"/></g><line x1="193.50" y1="336.10" x2="193.50" y2="326.10" stroke="#5a5a5a" stroke-width="1.1"/><line x1="190.30" y1="326.10" x2="196.70" y2="326.10" stroke="#333" stroke-width="1.25"/><rect x="187.80" y="336.10" width="11.40" height="78.10" fill="#fff" stroke="#4a4a4a" stroke-width="1.15"/><clipPath id="c22"><rect x="188.10" y="336.30" width="10.80" height="77.90"/></clipPath><g clip-path="url(#c22)" stroke="#000" stroke-width="2.2" stroke-linecap="round"><line x1="188.50" y1="336.90" x2="198.60" y2="346.50"/><line x1="188.50" y1="351.25" x2="198.60" y2="360.85"/><line x1="188.50" y1="365.60" x2="198.60" y2="375.20"/><line x1="188.50" y1="379.95" x2="198.60" y2="389.55"/><line x1="188.50" y1="394.30" x2="198.60" y2="403.90"/><line x1="188.50" y1="408.65" x2="198.60" y2="418.25"/><line x1="188.50" y1="423.00" x2="198.60" y2="432.60"/><line x1="188.50" y1="437.35" x2="198.60" y2="446.95"/></g><line x1="212.30" y1="324.30" x2="212.30" y2="317.10" stroke="#5a5a5a" stroke-width="1.1"/><line x1="209.10" y1="317.10" x2="215.50" y2="317.10" stroke="#333" stroke-width="1.25"/><rect x="206.60" y="324.30" width="11.40" height="89.90" fill="#fff" stroke="#4a4a4a" stroke-width="1.15"/><clipPath id="c23"><rect x="206.90" y="324.50" width="10.80" height="89.70"/></clipPath><g clip-path="url(#c23)" stroke="#000" stroke-width="2.2" stroke-linecap="round"><line x1="207.30" y1="325.10" x2="217.40" y2="334.69"/><line x1="207.30" y1="339.45" x2="217.40" y2="349.05"/><line x1="207.30" y1="353.80" x2="217.40" y2="363.40"/><line x1="207.30" y1="368.15" x2="217.40" y2="377.75"/><line x1="207.30" y1="382.50" x2="217.40" y2="392.10"/><line x1="207.30" y1="396.85" x2="217.40" y2="406.45"/><line x1="207.30" y1="411.20" x2="217.40" y2="420.80"/><line x1="207.30" y1="425.55" x2="217.40" y2="435.15"/></g><line x1="230.80" y1="355.20" x2="230.80" y2="351.40" stroke="#5a5a5a" stroke-width="1.1"/><line x1="227.60" y1="351.40" x2="234.00" y2="351.40" stroke="#333" stroke-width="1.25"/><rect x="225.10" y="355.20" width="11.40" height="59.00" fill="#fff" stroke="#4a4a4a" stroke-width="1.15"/><clipPath id="c24"><rect x="225.40" y="355.40" width="10.80" height="58.80"/></clipPath><g clip-path="url(#c24)" stroke="#000" stroke-width="2.2" stroke-linecap="round"><line x1="225.80" y1="356.00" x2="235.90" y2="365.59"/><line x1="225.80" y1="370.35" x2="235.90" y2="379.94"/><line x1="225.80" y1="384.70" x2="235.90" y2="394.30"/><line x1="225.80" y1="399.05" x2="235.90" y2="408.65"/><line x1="225.80" y1="413.40" x2="235.90" y2="423.00"/><line x1="225.80" y1="427.75" x2="235.90" y2="437.35"/></g><line x1="269.10" y1="312.20" x2="269.10" y2="308.60" stroke="#5a5a5a" stroke-width="1.1"/><line x1="265.90" y1="308.60" x2="272.30" y2="308.60" stroke="#333" stroke-width="1.25"/><rect x="263.40" y="312.20" width="11.40" height="102.00" fill="#fff" stroke="#4a4a4a" stroke-width="1.15"/><clipPath id="c25"><rect x="263.70" y="312.40" width="10.80" height="101.80"/></clipPath><g clip-path="url(#c25)"><rect x="263.40" y="311.90" width="11.40" height="2.30" fill="#000"/><rect x="263.40" y="318.98" width="11.40" height="1.85" fill="#000"/><rect x="263.40" y="325.86" width="11.40" height="1.85" fill="#000"/><rect x="263.40" y="332.74" width="11.40" height="1.85" fill="#000"/><rect x="263.40" y="339.62" width="11.40" height="1.85" fill="#000"/><rect x="263.40" y="346.50" width="11.40" height="1.85" fill="#000"/><rect x="263.40" y="353.38" width="11.40" height="1.85" fill="#000"/><rect x="263.40" y="360.26" width="11.40" height="1.85" fill="#000"/><rect x="263.40" y="367.14" width="11.40" height="1.85" fill="#000"/><rect x="263.40" y="374.02" width="11.40" height="1.85" fill="#000"/><rect x="263.40" y="380.90" width="11.40" height="1.85" fill="#000"/><rect x="263.40" y="387.78" width="11.40" height="1.85" fill="#000"/><rect x="263.40" y="394.66" width="11.40" height="1.85" fill="#000"/><rect x="263.40" y="401.54" width="11.40" height="1.85" fill="#000"/><rect x="263.40" y="408.42" width="11.40" height="1.85" fill="#000"/><rect x="263.10" y="312.20" width="2.40" height="102.00" fill="#000"/><rect x="270.15" y="312.20" width="1.85" height="102.00" fill="#000"/></g><line x1="287.90" y1="322.00" x2="287.90" y2="317.50" stroke="#5a5a5a" stroke-width="1.1"/><line x1="284.70" y1="317.50" x2="291.10" y2="317.50" stroke="#333" stroke-width="1.25"/><rect x="282.20" y="322.00" width="11.40" height="92.20" fill="#fff" stroke="#4a4a4a" stroke-width="1.15"/><clipPath id="c26"><rect x="282.50" y="322.20" width="10.80" height="92.00"/></clipPath><g clip-path="url(#c26)"><rect x="282.20" y="321.70" width="11.40" height="2.30" fill="#000"/><rect x="282.20" y="328.78" width="11.40" height="1.85" fill="#000"/><rect x="282.20" y="335.66" width="11.40" height="1.85" fill="#000"/><rect x="282.20" y="342.54" width="11.40" height="1.85" fill="#000"/><rect x="282.20" y="349.42" width="11.40" height="1.85" fill="#000"/><rect x="282.20" y="356.30" width="11.40" height="1.85" fill="#000"/><rect x="282.20" y="363.18" width="11.40" height="1.85" fill="#000"/><rect x="282.20" y="370.06" width="11.40" height="1.85" fill="#000"/><rect x="282.20" y="376.94" width="11.40" height="1.85" fill="#000"/><rect x="282.20" y="383.82" width="11.40" height="1.85" fill="#000"/><rect x="282.20" y="390.70" width="11.40" height="1.85" fill="#000"/><rect x="282.20" y="397.58" width="11.40" height="1.85" fill="#000"/><rect x="282.20" y="404.46" width="11.40" height="1.85" fill="#000"/><rect x="282.20" y="411.34" width="11.40" height="1.85" fill="#000"/><rect x="281.90" y="322.00" width="2.40" height="92.20" fill="#000"/><rect x="288.95" y="322.00" width="1.85" height="92.20" fill="#000"/></g><line x1="306.40" y1="339.00" x2="306.40" y2="331.20" stroke="#5a5a5a" stroke-width="1.1"/><line x1="303.20" y1="331.20" x2="309.60" y2="331.20" stroke="#333" stroke-width="1.25"/><rect x="300.70" y="339.00" width="11.40" height="75.20" fill="#fff" stroke="#4a4a4a" stroke-width="1.15"/><clipPath id="c27"><rect x="301.00" y="339.20" width="10.80" height="75.00"/></clipPath><g clip-path="url(#c27)"><rect x="300.70" y="338.70" width="11.40" height="2.30" fill="#000"/><rect x="300.70" y="345.78" width="11.40" height="1.85" fill="#000"/><rect x="300.70" y="352.66" width="11.40" height="1.85" fill="#000"/><rect x="300.70" y="359.54" width="11.40" height="1.85" fill="#000"/><rect x="300.70" y="366.42" width="11.40" height="1.85" fill="#000"/><rect x="300.70" y="373.30" width="11.40" height="1.85" fill="#000"/><rect x="300.70" y="380.18" width="11.40" height="1.85" fill="#000"/><rect x="300.70" y="387.06" width="11.40" height="1.85" fill="#000"/><rect x="300.70" y="393.94" width="11.40" height="1.85" fill="#000"/><rect x="300.70" y="400.82" width="11.40" height="1.85" fill="#000"/><rect x="300.70" y="407.70" width="11.40" height="1.85" fill="#000"/><rect x="300.40" y="339.00" width="2.40" height="75.20" fill="#000"/><rect x="307.45" y="339.00" width="1.85" height="75.20" fill="#000"/></g><rect x="53.30" y="226.40" width="269.90" height="187.80" fill="none" stroke="#474747" stroke-width="1.35"/><line x1="53.30" y1="414.20" x2="49.10" y2="414.20" stroke="#474747" stroke-width="1.35"/><text x="46.00" y="419.20" text-anchor="end" font-size="16.5">0</text><line x1="53.30" y1="390.72" x2="51.30" y2="390.72" stroke="#474747" stroke-width="1.35"/><line x1="53.30" y1="367.25" x2="49.10" y2="367.25" stroke="#474747" stroke-width="1.35"/><text x="46.00" y="372.25" text-anchor="end" font-size="16.5">0.3</text><line x1="53.30" y1="343.77" x2="51.30" y2="343.77" stroke="#474747" stroke-width="1.35"/><line x1="53.30" y1="320.30" x2="49.10" y2="320.30" stroke="#474747" stroke-width="1.35"/><text x="46.00" y="325.30" text-anchor="end" font-size="16.5">0.6</text><line x1="53.30" y1="296.82" x2="51.30" y2="296.82" stroke="#474747" stroke-width="1.35"/><line x1="53.30" y1="273.35" x2="49.10" y2="273.35" stroke="#474747" stroke-width="1.35"/><text x="46.00" y="278.35" text-anchor="end" font-size="16.5">0.9</text><line x1="53.30" y1="249.87" x2="51.30" y2="249.87" stroke="#474747" stroke-width="1.35"/><line x1="53.30" y1="226.40" x2="49.10" y2="226.40" stroke="#474747" stroke-width="1.35"/><text x="46.00" y="231.40" text-anchor="end" font-size="16.5">1.2</text><line x1="62.61" y1="414.20" x2="62.61" y2="417.00" stroke="#474747" stroke-width="1.35"/><line x1="81.23" y1="414.20" x2="81.23" y2="417.00" stroke="#474747" stroke-width="1.35"/><line x1="99.85" y1="414.20" x2="99.85" y2="417.00" stroke="#474747" stroke-width="1.35"/><line x1="118.47" y1="414.20" x2="118.47" y2="417.00" stroke="#474747" stroke-width="1.35"/><line x1="137.09" y1="414.20" x2="137.09" y2="417.00" stroke="#474747" stroke-width="1.35"/><line x1="155.71" y1="414.20" x2="155.71" y2="417.00" stroke="#474747" stroke-width="1.35"/><line x1="174.33" y1="414.20" x2="174.33" y2="417.00" stroke="#474747" stroke-width="1.35"/><line x1="192.95" y1="414.20" x2="192.95" y2="417.00" stroke="#474747" stroke-width="1.35"/><line x1="211.57" y1="414.20" x2="211.57" y2="417.00" stroke="#474747" stroke-width="1.35"/><line x1="230.19" y1="414.20" x2="230.19" y2="417.00" stroke="#474747" stroke-width="1.35"/><line x1="248.81" y1="414.20" x2="248.81" y2="417.00" stroke="#474747" stroke-width="1.35"/><line x1="267.43" y1="414.20" x2="267.43" y2="417.00" stroke="#474747" stroke-width="1.35"/><line x1="286.05" y1="414.20" x2="286.05" y2="417.00" stroke="#474747" stroke-width="1.35"/><line x1="304.67" y1="414.20" x2="304.67" y2="417.00" stroke="#474747" stroke-width="1.35"/><line x1="323.20" y1="414.20" x2="323.20" y2="417.00" stroke="#474747" stroke-width="1.35"/><text x="67.80" y="250.40" font-size="20.3" font-weight="bold">C</text><text transform="translate(9.30,313.60) rotate(-90)" text-anchor="middle" font-size="15.6" textLength="144.2" lengthAdjust="spacingAndGlyphs" y="3.2">CYP450 (nM/mg/min)</text><g transform="translate(116.70,326.90)" fill="#151515"><path d="M -0.3 -0.6 L -0.85 -2.6 Q -1.15 -4.3 0 -4.3 Q 1.15 -4.3 0.85 -2.6 L 0.3 -0.6 Z" transform="rotate(0)"/><path d="M -0.3 -0.6 L -0.85 -2.6 Q -1.15 -4.3 0 -4.3 Q 1.15 -4.3 0.85 -2.6 L 0.3 -0.6 Z" transform="rotate(60)"/><path d="M -0.3 -0.6 L -0.85 -2.6 Q -1.15 -4.3 0 -4.3 Q 1.15 -4.3 0.85 -2.6 L 0.3 -0.6 Z" transform="rotate(120)"/><path d="M -0.3 -0.6 L -0.85 -2.6 Q -1.15 -4.3 0 -4.3 Q 1.15 -4.3 0.85 -2.6 L 0.3 -0.6 Z" transform="rotate(180)"/><path d="M -0.3 -0.6 L -0.85 -2.6 Q -1.15 -4.3 0 -4.3 Q 1.15 -4.3 0.85 -2.6 L 0.3 -0.6 Z" transform="rotate(240)"/><path d="M -0.3 -0.6 L -0.85 -2.6 Q -1.15 -4.3 0 -4.3 Q 1.15 -4.3 0.85 -2.6 L 0.3 -0.6 Z" transform="rotate(300)"/><circle r="0.8"/></g><g transform="translate(154.80,336.20)" fill="#151515"><path d="M -0.3 -0.6 L -0.85 -2.6 Q -1.15 -4.3 0 -4.3 Q 1.15 -4.3 0.85 -2.6 L 0.3 -0.6 Z" transform="rotate(0)"/><path d="M -0.3 -0.6 L -0.85 -2.6 Q -1.15 -4.3 0 -4.3 Q 1.15 -4.3 0.85 -2.6 L 0.3 -0.6 Z" transform="rotate(60)"/><path d="M -0.3 -0.6 L -0.85 -2.6 Q -1.15 -4.3 0 -4.3 Q 1.15 -4.3 0.85 -2.6 L 0.3 -0.6 Z" transform="rotate(120)"/><path d="M -0.3 -0.6 L -0.85 -2.6 Q -1.15 -4.3 0 -4.3 Q 1.15 -4.3 0.85 -2.6 L 0.3 -0.6 Z" transform="rotate(180)"/><path d="M -0.3 -0.6 L -0.85 -2.6 Q -1.15 -4.3 0 -4.3 Q 1.15 -4.3 0.85 -2.6 L 0.3 -0.6 Z" transform="rotate(240)"/><path d="M -0.3 -0.6 L -0.85 -2.6 Q -1.15 -4.3 0 -4.3 Q 1.15 -4.3 0.85 -2.6 L 0.3 -0.6 Z" transform="rotate(300)"/><circle r="0.8"/></g><g transform="translate(230.90,338.40)" fill="#151515"><path d="M -0.3 -0.6 L -0.85 -2.6 Q -1.15 -4.3 0 -4.3 Q 1.15 -4.3 0.85 -2.6 L 0.3 -0.6 Z" transform="rotate(0)"/><path d="M -0.3 -0.6 L -0.85 -2.6 Q -1.15 -4.3 0 -4.3 Q 1.15 -4.3 0.85 -2.6 L 0.3 -0.6 Z" transform="rotate(60)"/><path d="M -0.3 -0.6 L -0.85 -2.6 Q -1.15 -4.3 0 -4.3 Q 1.15 -4.3 0.85 -2.6 L 0.3 -0.6 Z" transform="rotate(120)"/><path d="M -0.3 -0.6 L -0.85 -2.6 Q -1.15 -4.3 0 -4.3 Q 1.15 -4.3 0.85 -2.6 L 0.3 -0.6 Z" transform="rotate(180)"/><path d="M -0.3 -0.6 L -0.85 -2.6 Q -1.15 -4.3 0 -4.3 Q 1.15 -4.3 0.85 -2.6 L 0.3 -0.6 Z" transform="rotate(240)"/><path d="M -0.3 -0.6 L -0.85 -2.6 Q -1.15 -4.3 0 -4.3 Q 1.15 -4.3 0.85 -2.6 L 0.3 -0.6 Z" transform="rotate(300)"/><circle r="0.8"/></g><text transform="translate(269.70,298.60) scale(0.86,1)" text-anchor="middle" font-size="18.8">#</text><g transform="translate(306.70,321.10)" fill="#151515"><path d="M -0.3 -0.6 L -0.85 -2.6 Q -1.15 -4.3 0 -4.3 Q 1.15 -4.3 0.85 -2.6 L 0.3 -0.6 Z" transform="rotate(0)"/><path d="M -0.3 -0.6 L -0.85 -2.6 Q -1.15 -4.3 0 -4.3 Q 1.15 -4.3 0.85 -2.6 L 0.3 -0.6 Z" transform="rotate(60)"/><path d="M -0.3 -0.6 L -0.85 -2.6 Q -1.15 -4.3 0 -4.3 Q 1.15 -4.3 0.85 -2.6 L 0.3 -0.6 Z" transform="rotate(120)"/><path d="M -0.3 -0.6 L -0.85 -2.6 Q -1.15 -4.3 0 -4.3 Q 1.15 -4.3 0.85 -2.6 L 0.3 -0.6 Z" transform="rotate(180)"/><path d="M -0.3 -0.6 L -0.85 -2.6 Q -1.15 -4.3 0 -4.3 Q 1.15 -4.3 0.85 -2.6 L 0.3 -0.6 Z" transform="rotate(240)"/><path d="M -0.3 -0.6 L -0.85 -2.6 Q -1.15 -4.3 0 -4.3 Q 1.15 -4.3 0.85 -2.6 L 0.3 -0.6 Z" transform="rotate(300)"/><circle r="0.8"/></g><line x1="388.00" y1="364.80" x2="388.00" y2="356.60" stroke="#5a5a5a" stroke-width="1.1"/><line x1="384.80" y1="356.60" x2="391.20" y2="356.60" stroke="#333" stroke-width="1.25"/><rect x="382.30" y="364.80" width="11.40" height="49.60" fill="#fff" stroke="#4a4a4a" stroke-width="1.15"/><line x1="426.35" y1="326.90" x2="426.35" y2="318.50" stroke="#5a5a5a" stroke-width="1.1"/><line x1="423.15" y1="318.50" x2="429.55" y2="318.50" stroke="#333" stroke-width="1.25"/><rect x="420.65" y="326.90" width="11.40" height="87.50" fill="#fff" stroke="#4a4a4a" stroke-width="1.15"/><clipPath id="c28"><rect x="420.95" y="327.10" width="10.80" height="87.30"/></clipPath><g clip-path="url(#c28)" stroke="#000" stroke-width="2.2" stroke-linecap="round"><line x1="421.35" y1="327.70" x2="431.45" y2="318.11"/><line x1="421.35" y1="342.05" x2="431.45" y2="332.46"/><line x1="421.35" y1="356.40" x2="431.45" y2="346.81"/><line x1="421.35" y1="370.75" x2="431.45" y2="361.16"/><line x1="421.35" y1="385.10" x2="431.45" y2="375.51"/><line x1="421.35" y1="399.45" x2="431.45" y2="389.86"/><line x1="421.35" y1="413.80" x2="431.45" y2="404.21"/><line x1="421.35" y1="428.15" x2="431.45" y2="418.56"/></g><line x1="444.90" y1="338.50" x2="444.90" y2="332.10" stroke="#5a5a5a" stroke-width="1.1"/><line x1="441.70" y1="332.10" x2="448.10" y2="332.10" stroke="#333" stroke-width="1.25"/><rect x="439.20" y="338.50" width="11.40" height="75.90" fill="#fff" stroke="#4a4a4a" stroke-width="1.15"/><clipPath id="c29"><rect x="439.50" y="338.70" width="10.80" height="75.70"/></clipPath><g clip-path="url(#c29)" stroke="#000" stroke-width="2.2" stroke-linecap="round"><line x1="439.90" y1="339.30" x2="450.00" y2="329.71"/><line x1="439.90" y1="353.65" x2="450.00" y2="344.06"/><line x1="439.90" y1="368.00" x2="450.00" y2="358.41"/><line x1="439.90" y1="382.35" x2="450.00" y2="372.76"/><line x1="439.90" y1="396.70" x2="450.00" y2="387.11"/><line x1="439.90" y1="411.05" x2="450.00" y2="401.46"/><line x1="439.90" y1="425.40" x2="450.00" y2="415.81"/></g><line x1="463.55" y1="376.40" x2="463.55" y2="374.50" stroke="#5a5a5a" stroke-width="1.1"/><line x1="460.35" y1="374.50" x2="466.75" y2="374.50" stroke="#333" stroke-width="1.25"/><rect x="457.85" y="376.40" width="11.40" height="38.00" fill="#fff" stroke="#4a4a4a" stroke-width="1.15"/><clipPath id="c30"><rect x="458.15" y="376.60" width="10.80" height="37.80"/></clipPath><g clip-path="url(#c30)" stroke="#000" stroke-width="2.2" stroke-linecap="round"><line x1="458.55" y1="377.20" x2="468.65" y2="367.61"/><line x1="458.55" y1="391.55" x2="468.65" y2="381.96"/><line x1="458.55" y1="405.90" x2="468.65" y2="396.31"/><line x1="458.55" y1="420.25" x2="468.65" y2="410.66"/><line x1="458.55" y1="434.60" x2="468.65" y2="425.01"/></g><line x1="501.90" y1="323.80" x2="501.90" y2="314.80" stroke="#5a5a5a" stroke-width="1.1"/><line x1="498.70" y1="314.80" x2="505.10" y2="314.80" stroke="#333" stroke-width="1.25"/><rect x="496.20" y="323.80" width="11.40" height="90.60" fill="#fff" stroke="#4a4a4a" stroke-width="1.15"/><clipPath id="c31"><rect x="496.50" y="324.00" width="10.80" height="90.40"/></clipPath><g clip-path="url(#c31)" stroke="#000" stroke-width="2.2" stroke-linecap="round"><line x1="496.90" y1="324.60" x2="507.00" y2="334.19"/><line x1="496.90" y1="338.95" x2="507.00" y2="348.55"/><line x1="496.90" y1="353.30" x2="507.00" y2="362.90"/><line x1="496.90" y1="367.65" x2="507.00" y2="377.25"/><line x1="496.90" y1="382.00" x2="507.00" y2="391.60"/><line x1="496.90" y1="396.35" x2="507.00" y2="405.95"/><line x1="496.90" y1="410.70" x2="507.00" y2="420.30"/><line x1="496.90" y1="425.05" x2="507.00" y2="434.65"/></g><line x1="520.70" y1="311.50" x2="520.70" y2="299.60" stroke="#5a5a5a" stroke-width="1.1"/><line x1="517.50" y1="299.60" x2="523.90" y2="299.60" stroke="#333" stroke-width="1.25"/><rect x="515.00" y="311.50" width="11.40" height="102.90" fill="#fff" stroke="#4a4a4a" stroke-width="1.15"/><clipPath id="c32"><rect x="515.30" y="311.70" width="10.80" height="102.70"/></clipPath><g clip-path="url(#c32)" stroke="#000" stroke-width="2.2" stroke-linecap="round"><line x1="515.70" y1="312.30" x2="525.80" y2="321.90"/><line x1="515.70" y1="326.65" x2="525.80" y2="336.25"/><line x1="515.70" y1="341.00" x2="525.80" y2="350.60"/><line x1="515.70" y1="355.35" x2="525.80" y2="364.95"/><line x1="515.70" y1="369.70" x2="525.80" y2="379.30"/><line x1="515.70" y1="384.05" x2="525.80" y2="393.65"/><line x1="515.70" y1="398.40" x2="525.80" y2="408.00"/><line x1="515.70" y1="412.75" x2="525.80" y2="422.35"/><line x1="515.70" y1="427.10" x2="525.80" y2="436.70"/></g><line x1="539.20" y1="335.00" x2="539.20" y2="328.70" stroke="#5a5a5a" stroke-width="1.1"/><line x1="536.00" y1="328.70" x2="542.40" y2="328.70" stroke="#333" stroke-width="1.25"/><rect x="533.50" y="335.00" width="11.40" height="79.40" fill="#fff" stroke="#4a4a4a" stroke-width="1.15"/><clipPath id="c33"><rect x="533.80" y="335.20" width="10.80" height="79.20"/></clipPath><g clip-path="url(#c33)" stroke="#000" stroke-width="2.2" stroke-linecap="round"><line x1="534.20" y1="335.80" x2="544.30" y2="345.40"/><line x1="534.20" y1="350.15" x2="544.30" y2="359.75"/><line x1="534.20" y1="364.50" x2="544.30" y2="374.10"/><line x1="534.20" y1="378.85" x2="544.30" y2="388.45"/><line x1="534.20" y1="393.20" x2="544.30" y2="402.80"/><line x1="534.20" y1="407.55" x2="544.30" y2="417.15"/><line x1="534.20" y1="421.90" x2="544.30" y2="431.50"/><line x1="534.20" y1="436.25" x2="544.30" y2="445.85"/></g><line x1="577.50" y1="323.90" x2="577.50" y2="303.60" stroke="#5a5a5a" stroke-width="1.1"/><line x1="574.30" y1="303.60" x2="580.70" y2="303.60" stroke="#333" stroke-width="1.25"/><rect x="571.80" y="323.90" width="11.40" height="90.50" fill="#fff" stroke="#4a4a4a" stroke-width="1.15"/><clipPath id="c34"><rect x="572.10" y="324.10" width="10.80" height="90.30"/></clipPath><g clip-path="url(#c34)"><rect x="571.80" y="323.60" width="11.40" height="2.30" fill="#000"/><rect x="571.80" y="330.68" width="11.40" height="1.85" fill="#000"/><rect x="571.80" y="337.56" width="11.40" height="1.85" fill="#000"/><rect x="571.80" y="344.44" width="11.40" height="1.85" fill="#000"/><rect x="571.80" y="351.32" width="11.40" height="1.85" fill="#000"/><rect x="571.80" y="358.20" width="11.40" height="1.85" fill="#000"/><rect x="571.80" y="365.08" width="11.40" height="1.85" fill="#000"/><rect x="571.80" y="371.96" width="11.40" height="1.85" fill="#000"/><rect x="571.80" y="378.84" width="11.40" height="1.85" fill="#000"/><rect x="571.80" y="385.72" width="11.40" height="1.85" fill="#000"/><rect x="571.80" y="392.60" width="11.40" height="1.85" fill="#000"/><rect x="571.80" y="399.48" width="11.40" height="1.85" fill="#000"/><rect x="571.80" y="406.36" width="11.40" height="1.85" fill="#000"/><rect x="571.80" y="413.24" width="11.40" height="1.85" fill="#000"/><rect x="571.50" y="323.90" width="2.40" height="90.50" fill="#000"/><rect x="578.55" y="323.90" width="1.85" height="90.50" fill="#000"/></g><line x1="596.30" y1="330.50" x2="596.30" y2="308.10" stroke="#5a5a5a" stroke-width="1.1"/><line x1="593.10" y1="308.10" x2="599.50" y2="308.10" stroke="#333" stroke-width="1.25"/><rect x="590.60" y="330.50" width="11.40" height="83.90" fill="#fff" stroke="#4a4a4a" stroke-width="1.15"/><clipPath id="c35"><rect x="590.90" y="330.70" width="10.80" height="83.70"/></clipPath><g clip-path="url(#c35)"><rect x="590.60" y="330.20" width="11.40" height="2.30" fill="#000"/><rect x="590.60" y="337.28" width="11.40" height="1.85" fill="#000"/><rect x="590.60" y="344.16" width="11.40" height="1.85" fill="#000"/><rect x="590.60" y="351.04" width="11.40" height="1.85" fill="#000"/><rect x="590.60" y="357.92" width="11.40" height="1.85" fill="#000"/><rect x="590.60" y="364.80" width="11.40" height="1.85" fill="#000"/><rect x="590.60" y="371.68" width="11.40" height="1.85" fill="#000"/><rect x="590.60" y="378.56" width="11.40" height="1.85" fill="#000"/><rect x="590.60" y="385.44" width="11.40" height="1.85" fill="#000"/><rect x="590.60" y="392.32" width="11.40" height="1.85" fill="#000"/><rect x="590.60" y="399.20" width="11.40" height="1.85" fill="#000"/><rect x="590.60" y="406.08" width="11.40" height="1.85" fill="#000"/><rect x="590.60" y="412.96" width="11.40" height="1.85" fill="#000"/><rect x="590.30" y="330.50" width="2.40" height="83.90" fill="#000"/><rect x="597.35" y="330.50" width="1.85" height="83.90" fill="#000"/></g><line x1="614.80" y1="379.90" x2="614.80" y2="377.60" stroke="#5a5a5a" stroke-width="1.1"/><line x1="611.60" y1="377.60" x2="618.00" y2="377.60" stroke="#333" stroke-width="1.25"/><rect x="609.10" y="379.90" width="11.40" height="34.50" fill="#fff" stroke="#4a4a4a" stroke-width="1.15"/><clipPath id="c36"><rect x="609.40" y="380.10" width="10.80" height="34.30"/></clipPath><g clip-path="url(#c36)"><rect x="609.10" y="379.60" width="11.40" height="2.30" fill="#000"/><rect x="609.10" y="386.68" width="11.40" height="1.85" fill="#000"/><rect x="609.10" y="393.56" width="11.40" height="1.85" fill="#000"/><rect x="609.10" y="400.44" width="11.40" height="1.85" fill="#000"/><rect x="609.10" y="407.32" width="11.40" height="1.85" fill="#000"/><rect x="609.10" y="414.20" width="11.40" height="1.85" fill="#000"/><rect x="608.80" y="379.90" width="2.40" height="34.50" fill="#000"/><rect x="615.85" y="379.90" width="1.85" height="34.50" fill="#000"/></g><rect x="361.70" y="226.40" width="270.00" height="188.00" fill="none" stroke="#474747" stroke-width="1.35"/><line x1="631.70" y1="414.40" x2="635.90" y2="414.40" stroke="#474747" stroke-width="1.35"/><text x="638.50" y="419.40" font-size="16.5">0</text><line x1="631.70" y1="395.60" x2="633.70" y2="395.60" stroke="#474747" stroke-width="1.35"/><line x1="631.70" y1="376.80" x2="635.90" y2="376.80" stroke="#474747" stroke-width="1.35"/><text x="638.50" y="381.80" font-size="16.5">0.5</text><line x1="631.70" y1="358.00" x2="633.70" y2="358.00" stroke="#474747" stroke-width="1.35"/><line x1="631.70" y1="339.20" x2="635.90" y2="339.20" stroke="#474747" stroke-width="1.35"/><text x="638.50" y="344.20" font-size="16.5">1.0</text><line x1="631.70" y1="320.40" x2="633.70" y2="320.40" stroke="#474747" stroke-width="1.35"/><line x1="631.70" y1="301.60" x2="635.90" y2="301.60" stroke="#474747" stroke-width="1.35"/><text x="638.50" y="306.60" font-size="16.5">1.5</text><line x1="631.70" y1="282.80" x2="633.70" y2="282.80" stroke="#474747" stroke-width="1.35"/><line x1="631.70" y1="264.00" x2="635.90" y2="264.00" stroke="#474747" stroke-width="1.35"/><text x="638.50" y="269.00" font-size="16.5">2.0</text><line x1="631.70" y1="245.20" x2="633.70" y2="245.20" stroke="#474747" stroke-width="1.35"/><line x1="631.70" y1="226.40" x2="635.90" y2="226.40" stroke="#474747" stroke-width="1.35"/><text x="638.50" y="231.40" font-size="16.5">2.5</text><line x1="371.01" y1="414.40" x2="371.01" y2="417.20" stroke="#474747" stroke-width="1.35"/><line x1="389.63" y1="414.40" x2="389.63" y2="417.20" stroke="#474747" stroke-width="1.35"/><line x1="408.25" y1="414.40" x2="408.25" y2="417.20" stroke="#474747" stroke-width="1.35"/><line x1="426.87" y1="414.40" x2="426.87" y2="417.20" stroke="#474747" stroke-width="1.35"/><line x1="445.49" y1="414.40" x2="445.49" y2="417.20" stroke="#474747" stroke-width="1.35"/><line x1="464.11" y1="414.40" x2="464.11" y2="417.20" stroke="#474747" stroke-width="1.35"/><line x1="482.73" y1="414.40" x2="482.73" y2="417.20" stroke="#474747" stroke-width="1.35"/><line x1="501.35" y1="414.40" x2="501.35" y2="417.20" stroke="#474747" stroke-width="1.35"/><line x1="519.97" y1="414.40" x2="519.97" y2="417.20" stroke="#474747" stroke-width="1.35"/><line x1="538.59" y1="414.40" x2="538.59" y2="417.20" stroke="#474747" stroke-width="1.35"/><line x1="557.21" y1="414.40" x2="557.21" y2="417.20" stroke="#474747" stroke-width="1.35"/><line x1="575.83" y1="414.40" x2="575.83" y2="417.20" stroke="#474747" stroke-width="1.35"/><line x1="594.45" y1="414.40" x2="594.45" y2="417.20" stroke="#474747" stroke-width="1.35"/><line x1="613.07" y1="414.40" x2="613.07" y2="417.20" stroke="#474747" stroke-width="1.35"/><line x1="631.70" y1="414.40" x2="631.70" y2="417.20" stroke="#474747" stroke-width="1.35"/><text x="375.20" y="251.50" font-size="20.3" font-weight="bold">D</text><text transform="translate(674.00,305.80) rotate(-90)" text-anchor="middle" font-size="15.6" textLength="108.9" lengthAdjust="spacingAndGlyphs" y="3.2">CarE (U/mg prot)</text><g transform="translate(426.70,305.10)" fill="#151515"><path d="M -0.3 -0.6 L -0.85 -2.6 Q -1.15 -4.3 0 -4.3 Q 1.15 -4.3 0.85 -2.6 L 0.3 -0.6 Z" transform="rotate(0)"/><path d="M -0.3 -0.6 L -0.85 -2.6 Q -1.15 -4.3 0 -4.3 Q 1.15 -4.3 0.85 -2.6 L 0.3 -0.6 Z" transform="rotate(60)"/><path d="M -0.3 -0.6 L -0.85 -2.6 Q -1.15 -4.3 0 -4.3 Q 1.15 -4.3 0.85 -2.6 L 0.3 -0.6 Z" transform="rotate(120)"/><path d="M -0.3 -0.6 L -0.85 -2.6 Q -1.15 -4.3 0 -4.3 Q 1.15 -4.3 0.85 -2.6 L 0.3 -0.6 Z" transform="rotate(180)"/><path d="M -0.3 -0.6 L -0.85 -2.6 Q -1.15 -4.3 0 -4.3 Q 1.15 -4.3 0.85 -2.6 L 0.3 -0.6 Z" transform="rotate(240)"/><path d="M -0.3 -0.6 L -0.85 -2.6 Q -1.15 -4.3 0 -4.3 Q 1.15 -4.3 0.85 -2.6 L 0.3 -0.6 Z" transform="rotate(300)"/><circle r="0.8"/></g><g transform="translate(445.10,315.20)" fill="#151515"><path d="M -0.3 -0.6 L -0.85 -2.6 Q -1.15 -4.3 0 -4.3 Q 1.15 -4.3 0.85 -2.6 L 0.3 -0.6 Z" transform="rotate(0)"/><path d="M -0.3 -0.6 L -0.85 -2.6 Q -1.15 -4.3 0 -4.3 Q 1.15 -4.3 0.85 -2.6 L 0.3 -0.6 Z" transform="rotate(60)"/><path d="M -0.3 -0.6 L -0.85 -2.6 Q -1.15 -4.3 0 -4.3 Q 1.15 -4.3 0.85 -2.6 L 0.3 -0.6 Z" transform="rotate(120)"/><path d="M -0.3 -0.6 L -0.85 -2.6 Q -1.15 -4.3 0 -4.3 Q 1.15 -4.3 0.85 -2.6 L 0.3 -0.6 Z" transform="rotate(180)"/><path d="M -0.3 -0.6 L -0.85 -2.6 Q -1.15 -4.3 0 -4.3 Q 1.15 -4.3 0.85 -2.6 L 0.3 -0.6 Z" transform="rotate(240)"/><path d="M -0.3 -0.6 L -0.85 -2.6 Q -1.15 -4.3 0 -4.3 Q 1.15 -4.3 0.85 -2.6 L 0.3 -0.6 Z" transform="rotate(300)"/><circle r="0.8"/></g><g transform="translate(463.20,358.30)" fill="#151515"><path d="M -0.3 -0.6 L -0.85 -2.6 Q -1.15 -4.3 0 -4.3 Q 1.15 -4.3 0.85 -2.6 L 0.3 -0.6 Z" transform="rotate(0)"/><path d="M -0.3 -0.6 L -0.85 -2.6 Q -1.15 -4.3 0 -4.3 Q 1.15 -4.3 0.85 -2.6 L 0.3 -0.6 Z" transform="rotate(60)"/><path d="M -0.3 -0.6 L -0.85 -2.6 Q -1.15 -4.3 0 -4.3 Q 1.15 -4.3 0.85 -2.6 L 0.3 -0.6 Z" transform="rotate(120)"/><path d="M -0.3 -0.6 L -0.85 -2.6 Q -1.15 -4.3 0 -4.3 Q 1.15 -4.3 0.85 -2.6 L 0.3 -0.6 Z" transform="rotate(180)"/><path d="M -0.3 -0.6 L -0.85 -2.6 Q -1.15 -4.3 0 -4.3 Q 1.15 -4.3 0.85 -2.6 L 0.3 -0.6 Z" transform="rotate(240)"/><path d="M -0.3 -0.6 L -0.85 -2.6 Q -1.15 -4.3 0 -4.3 Q 1.15 -4.3 0.85 -2.6 L 0.3 -0.6 Z" transform="rotate(300)"/><circle r="0.8"/></g><g transform="translate(501.20,303.20)" fill="#151515"><path d="M -0.3 -0.6 L -0.85 -2.6 Q -1.15 -4.3 0 -4.3 Q 1.15 -4.3 0.85 -2.6 L 0.3 -0.6 Z" transform="rotate(0)"/><path d="M -0.3 -0.6 L -0.85 -2.6 Q -1.15 -4.3 0 -4.3 Q 1.15 -4.3 0.85 -2.6 L 0.3 -0.6 Z" transform="rotate(60)"/><path d="M -0.3 -0.6 L -0.85 -2.6 Q -1.15 -4.3 0 -4.3 Q 1.15 -4.3 0.85 -2.6 L 0.3 -0.6 Z" transform="rotate(120)"/><path d="M -0.3 -0.6 L -0.85 -2.6 Q -1.15 -4.3 0 -4.3 Q 1.15 -4.3 0.85 -2.6 L 0.3 -0.6 Z" transform="rotate(180)"/><path d="M -0.3 -0.6 L -0.85 -2.6 Q -1.15 -4.3 0 -4.3 Q 1.15 -4.3 0.85 -2.6 L 0.3 -0.6 Z" transform="rotate(240)"/><path d="M -0.3 -0.6 L -0.85 -2.6 Q -1.15 -4.3 0 -4.3 Q 1.15 -4.3 0.85 -2.6 L 0.3 -0.6 Z" transform="rotate(300)"/><circle r="0.8"/></g><g transform="translate(520.30,286.40)" fill="#151515"><path d="M -0.3 -0.6 L -0.85 -2.6 Q -1.15 -4.3 0 -4.3 Q 1.15 -4.3 0.85 -2.6 L 0.3 -0.6 Z" transform="rotate(0)"/><path d="M -0.3 -0.6 L -0.85 -2.6 Q -1.15 -4.3 0 -4.3 Q 1.15 -4.3 0.85 -2.6 L 0.3 -0.6 Z" transform="rotate(60)"/><path d="M -0.3 -0.6 L -0.85 -2.6 Q -1.15 -4.3 0 -4.3 Q 1.15 -4.3 0.85 -2.6 L 0.3 -0.6 Z" transform="rotate(120)"/><path d="M -0.3 -0.6 L -0.85 -2.6 Q -1.15 -4.3 0 -4.3 Q 1.15 -4.3 0.85 -2.6 L 0.3 -0.6 Z" transform="rotate(180)"/><path d="M -0.3 -0.6 L -0.85 -2.6 Q -1.15 -4.3 0 -4.3 Q 1.15 -4.3 0.85 -2.6 L 0.3 -0.6 Z" transform="rotate(240)"/><path d="M -0.3 -0.6 L -0.85 -2.6 Q -1.15 -4.3 0 -4.3 Q 1.15 -4.3 0.85 -2.6 L 0.3 -0.6 Z" transform="rotate(300)"/><circle r="0.8"/></g><g transform="translate(538.70,316.00)" fill="#151515"><path d="M -0.3 -0.6 L -0.85 -2.6 Q -1.15 -4.3 0 -4.3 Q 1.15 -4.3 0.85 -2.6 L 0.3 -0.6 Z" transform="rotate(0)"/><path d="M -0.3 -0.6 L -0.85 -2.6 Q -1.15 -4.3 0 -4.3 Q 1.15 -4.3 0.85 -2.6 L 0.3 -0.6 Z" transform="rotate(60)"/><path d="M -0.3 -0.6 L -0.85 -2.6 Q -1.15 -4.3 0 -4.3 Q 1.15 -4.3 0.85 -2.6 L 0.3 -0.6 Z" transform="rotate(120)"/><path d="M -0.3 -0.6 L -0.85 -2.6 Q -1.15 -4.3 0 -4.3 Q 1.15 -4.3 0.85 -2.6 L 0.3 -0.6 Z" transform="rotate(180)"/><path d="M -0.3 -0.6 L -0.85 -2.6 Q -1.15 -4.3 0 -4.3 Q 1.15 -4.3 0.85 -2.6 L 0.3 -0.6 Z" transform="rotate(240)"/><path d="M -0.3 -0.6 L -0.85 -2.6 Q -1.15 -4.3 0 -4.3 Q 1.15 -4.3 0.85 -2.6 L 0.3 -0.6 Z" transform="rotate(300)"/><circle r="0.8"/></g><g transform="translate(577.40,292.40)" fill="#151515"><path d="M -0.3 -0.6 L -0.85 -2.6 Q -1.15 -4.3 0 -4.3 Q 1.15 -4.3 0.85 -2.6 L 0.3 -0.6 Z" transform="rotate(0)"/><path d="M -0.3 -0.6 L -0.85 -2.6 Q -1.15 -4.3 0 -4.3 Q 1.15 -4.3 0.85 -2.6 L 0.3 -0.6 Z" transform="rotate(60)"/><path d="M -0.3 -0.6 L -0.85 -2.6 Q -1.15 -4.3 0 -4.3 Q 1.15 -4.3 0.85 -2.6 L 0.3 -0.6 Z" transform="rotate(120)"/><path d="M -0.3 -0.6 L -0.85 -2.6 Q -1.15 -4.3 0 -4.3 Q 1.15 -4.3 0.85 -2.6 L 0.3 -0.6 Z" transform="rotate(180)"/><path d="M -0.3 -0.6 L -0.85 -2.6 Q -1.15 -4.3 0 -4.3 Q 1.15 -4.3 0.85 -2.6 L 0.3 -0.6 Z" transform="rotate(240)"/><path d="M -0.3 -0.6 L -0.85 -2.6 Q -1.15 -4.3 0 -4.3 Q 1.15 -4.3 0.85 -2.6 L 0.3 -0.6 Z" transform="rotate(300)"/><circle r="0.8"/></g><g transform="translate(595.80,296.20)" fill="#151515"><path d="M -0.3 -0.6 L -0.85 -2.6 Q -1.15 -4.3 0 -4.3 Q 1.15 -4.3 0.85 -2.6 L 0.3 -0.6 Z" transform="rotate(0)"/><path d="M -0.3 -0.6 L -0.85 -2.6 Q -1.15 -4.3 0 -4.3 Q 1.15 -4.3 0.85 -2.6 L 0.3 -0.6 Z" transform="rotate(60)"/><path d="M -0.3 -0.6 L -0.85 -2.6 Q -1.15 -4.3 0 -4.3 Q 1.15 -4.3 0.85 -2.6 L 0.3 -0.6 Z" transform="rotate(120)"/><path d="M -0.3 -0.6 L -0.85 -2.6 Q -1.15 -4.3 0 -4.3 Q 1.15 -4.3 0.85 -2.6 L 0.3 -0.6 Z" transform="rotate(180)"/><path d="M -0.3 -0.6 L -0.85 -2.6 Q -1.15 -4.3 0 -4.3 Q 1.15 -4.3 0.85 -2.6 L 0.3 -0.6 Z" transform="rotate(240)"/><path d="M -0.3 -0.6 L -0.85 -2.6 Q -1.15 -4.3 0 -4.3 Q 1.15 -4.3 0.85 -2.6 L 0.3 -0.6 Z" transform="rotate(300)"/><circle r="0.8"/></g><polygon points="615.10,349.30 616.63,353.80 621.38,353.86 617.57,356.70 618.98,361.24 615.10,358.50 611.22,361.24 612.63,356.70 608.82,353.86 613.57,353.80" fill="#000"/><g transform="translate(614.90,368.70)" fill="#151515"><path d="M -0.3 -0.6 L -0.85 -2.6 Q -1.15 -4.3 0 -4.3 Q 1.15 -4.3 0.85 -2.6 L 0.3 -0.6 Z" transform="rotate(0)"/><path d="M -0.3 -0.6 L -0.85 -2.6 Q -1.15 -4.3 0 -4.3 Q 1.15 -4.3 0.85 -2.6 L 0.3 -0.6 Z" transform="rotate(60)"/><path d="M -0.3 -0.6 L -0.85 -2.6 Q -1.15 -4.3 0 -4.3 Q 1.15 -4.3 0.85 -2.6 L 0.3 -0.6 Z" transform="rotate(120)"/><path d="M -0.3 -0.6 L -0.85 -2.6 Q -1.15 -4.3 0 -4.3 Q 1.15 -4.3 0.85 -2.6 L 0.3 -0.6 Z" transform="rotate(180)"/><path d="M -0.3 -0.6 L -0.85 -2.6 Q -1.15 -4.3 0 -4.3 Q 1.15 -4.3 0.85 -2.6 L 0.3 -0.6 Z" transform="rotate(240)"/><path d="M -0.3 -0.6 L -0.85 -2.6 Q -1.15 -4.3 0 -4.3 Q 1.15 -4.3 0.85 -2.6 L 0.3 -0.6 Z" transform="rotate(300)"/><circle r="0.8"/></g><line x1="87.70" y1="563.50" x2="87.70" y2="551.30" stroke="#5a5a5a" stroke-width="1.1"/><line x1="84.50" y1="551.30" x2="90.90" y2="551.30" stroke="#333" stroke-width="1.25"/><rect x="82.25" y="563.50" width="10.90" height="71.90" fill="#fff" stroke="#4a4a4a" stroke-width="1.15"/><line x1="124.95" y1="561.80" x2="124.95" y2="535.00" stroke="#5a5a5a" stroke-width="1.1"/><line x1="121.75" y1="535.00" x2="128.15" y2="535.00" stroke="#333" stroke-width="1.25"/><rect x="119.50" y="561.80" width="10.90" height="73.60" fill="#fff" stroke="#4a4a4a" stroke-width="1.15"/><clipPath id="c37"><rect x="119.80" y="562.00" width="10.30" height="73.40"/></clipPath><g clip-path="url(#c37)" stroke="#000" stroke-width="2.2" stroke-linecap="round"><line x1="120.20" y1="562.60" x2="129.80" y2="553.48"/><line x1="120.20" y1="576.95" x2="129.80" y2="567.83"/><line x1="120.20" y1="591.30" x2="129.80" y2="582.18"/><line x1="120.20" y1="605.65" x2="129.80" y2="596.53"/><line x1="120.20" y1="620.00" x2="129.80" y2="610.88"/><line x1="120.20" y1="634.35" x2="129.80" y2="625.23"/><line x1="120.20" y1="648.70" x2="129.80" y2="639.58"/></g><line x1="142.75" y1="558.60" x2="142.75" y2="552.40" stroke="#5a5a5a" stroke-width="1.1"/><line x1="139.55" y1="552.40" x2="145.95" y2="552.40" stroke="#333" stroke-width="1.25"/><rect x="137.30" y="558.60" width="10.90" height="76.80" fill="#fff" stroke="#4a4a4a" stroke-width="1.15"/><clipPath id="c38"><rect x="137.60" y="558.80" width="10.30" height="76.60"/></clipPath><g clip-path="url(#c38)" stroke="#000" stroke-width="2.2" stroke-linecap="round"><line x1="138.00" y1="559.40" x2="147.60" y2="550.28"/><line x1="138.00" y1="573.75" x2="147.60" y2="564.63"/><line x1="138.00" y1="588.10" x2="147.60" y2="578.98"/><line x1="138.00" y1="602.45" x2="147.60" y2="593.33"/><line x1="138.00" y1="616.80" x2="147.60" y2="607.68"/><line x1="138.00" y1="631.15" x2="147.60" y2="622.03"/><line x1="138.00" y1="645.50" x2="147.60" y2="636.38"/></g><line x1="161.00" y1="591.10" x2="161.00" y2="577.50" stroke="#5a5a5a" stroke-width="1.1"/><line x1="157.80" y1="577.50" x2="164.20" y2="577.50" stroke="#333" stroke-width="1.25"/><rect x="155.55" y="591.10" width="10.90" height="44.30" fill="#fff" stroke="#4a4a4a" stroke-width="1.15"/><clipPath id="c39"><rect x="155.85" y="591.30" width="10.30" height="44.10"/></clipPath><g clip-path="url(#c39)" stroke="#000" stroke-width="2.2" stroke-linecap="round"><line x1="156.25" y1="591.90" x2="165.85" y2="582.78"/><line x1="156.25" y1="606.25" x2="165.85" y2="597.13"/><line x1="156.25" y1="620.60" x2="165.85" y2="611.48"/><line x1="156.25" y1="634.95" x2="165.85" y2="625.83"/><line x1="156.25" y1="649.30" x2="165.85" y2="640.18"/></g><line x1="197.95" y1="518.90" x2="197.95" y2="494.20" stroke="#5a5a5a" stroke-width="1.1"/><line x1="194.75" y1="494.20" x2="201.15" y2="494.20" stroke="#333" stroke-width="1.25"/><rect x="192.50" y="518.90" width="10.90" height="116.50" fill="#fff" stroke="#4a4a4a" stroke-width="1.15"/><clipPath id="c40"><rect x="192.80" y="519.10" width="10.30" height="116.30"/></clipPath><g clip-path="url(#c40)" stroke="#000" stroke-width="2.2" stroke-linecap="round"><line x1="193.20" y1="519.70" x2="202.80" y2="528.82"/><line x1="193.20" y1="534.05" x2="202.80" y2="543.17"/><line x1="193.20" y1="548.40" x2="202.80" y2="557.52"/><line x1="193.20" y1="562.75" x2="202.80" y2="571.87"/><line x1="193.20" y1="577.10" x2="202.80" y2="586.22"/><line x1="193.20" y1="591.45" x2="202.80" y2="600.57"/><line x1="193.20" y1="605.80" x2="202.80" y2="614.92"/><line x1="193.20" y1="620.15" x2="202.80" y2="629.27"/><line x1="193.20" y1="634.50" x2="202.80" y2="643.62"/><line x1="193.20" y1="648.85" x2="202.80" y2="657.97"/></g><line x1="215.90" y1="559.50" x2="215.90" y2="538.80" stroke="#5a5a5a" stroke-width="1.1"/><line x1="212.70" y1="538.80" x2="219.10" y2="538.80" stroke="#333" stroke-width="1.25"/><rect x="210.45" y="559.50" width="10.90" height="75.90" fill="#fff" stroke="#4a4a4a" stroke-width="1.15"/><clipPath id="c41"><rect x="210.75" y="559.70" width="10.30" height="75.70"/></clipPath><g clip-path="url(#c41)" stroke="#000" stroke-width="2.2" stroke-linecap="round"><line x1="211.15" y1="560.30" x2="220.75" y2="569.42"/><line x1="211.15" y1="574.65" x2="220.75" y2="583.77"/><line x1="211.15" y1="589.00" x2="220.75" y2="598.12"/><line x1="211.15" y1="603.35" x2="220.75" y2="612.47"/><line x1="211.15" y1="617.70" x2="220.75" y2="626.82"/><line x1="211.15" y1="632.05" x2="220.75" y2="641.17"/><line x1="211.15" y1="646.40" x2="220.75" y2="655.52"/></g><line x1="234.00" y1="555.60" x2="234.00" y2="551.50" stroke="#5a5a5a" stroke-width="1.1"/><line x1="230.80" y1="551.50" x2="237.20" y2="551.50" stroke="#333" stroke-width="1.25"/><rect x="228.55" y="555.60" width="10.90" height="79.80" fill="#fff" stroke="#4a4a4a" stroke-width="1.15"/><clipPath id="c42"><rect x="228.85" y="555.80" width="10.30" height="79.60"/></clipPath><g clip-path="url(#c42)" stroke="#000" stroke-width="2.2" stroke-linecap="round"><line x1="229.25" y1="556.40" x2="238.85" y2="565.52"/><line x1="229.25" y1="570.75" x2="238.85" y2="579.87"/><line x1="229.25" y1="585.10" x2="238.85" y2="594.22"/><line x1="229.25" y1="599.45" x2="238.85" y2="608.57"/><line x1="229.25" y1="613.80" x2="238.85" y2="622.92"/><line x1="229.25" y1="628.15" x2="238.85" y2="637.27"/><line x1="229.25" y1="642.50" x2="238.85" y2="651.62"/><line x1="229.25" y1="656.85" x2="238.85" y2="665.97"/></g><line x1="271.15" y1="570.40" x2="271.15" y2="560.30" stroke="#5a5a5a" stroke-width="1.1"/><line x1="267.95" y1="560.30" x2="274.35" y2="560.30" stroke="#333" stroke-width="1.25"/><rect x="265.70" y="570.40" width="10.90" height="65.00" fill="#fff" stroke="#4a4a4a" stroke-width="1.15"/><clipPath id="c43"><rect x="266.00" y="570.60" width="10.30" height="64.80"/></clipPath><g clip-path="url(#c43)"><rect x="265.70" y="570.10" width="10.90" height="2.30" fill="#000"/><rect x="265.70" y="577.18" width="10.90" height="1.85" fill="#000"/><rect x="265.70" y="584.06" width="10.90" height="1.85" fill="#000"/><rect x="265.70" y="590.94" width="10.90" height="1.85" fill="#000"/><rect x="265.70" y="597.82" width="10.90" height="1.85" fill="#000"/><rect x="265.70" y="604.70" width="10.90" height="1.85" fill="#000"/><rect x="265.70" y="611.58" width="10.90" height="1.85" fill="#000"/><rect x="265.70" y="618.46" width="10.90" height="1.85" fill="#000"/><rect x="265.70" y="625.34" width="10.90" height="1.85" fill="#000"/><rect x="265.70" y="632.22" width="10.90" height="1.85" fill="#000"/><rect x="265.40" y="570.40" width="2.40" height="65.00" fill="#000"/><rect x="272.45" y="570.40" width="1.85" height="65.00" fill="#000"/></g><line x1="288.95" y1="554.70" x2="288.95" y2="542.50" stroke="#5a5a5a" stroke-width="1.1"/><line x1="285.75" y1="542.50" x2="292.15" y2="542.50" stroke="#333" stroke-width="1.25"/><rect x="283.50" y="554.70" width="10.90" height="80.70" fill="#fff" stroke="#4a4a4a" stroke-width="1.15"/><clipPath id="c44"><rect x="283.80" y="554.90" width="10.30" height="80.50"/></clipPath><g clip-path="url(#c44)"><rect x="283.50" y="554.40" width="10.90" height="2.30" fill="#000"/><rect x="283.50" y="561.48" width="10.90" height="1.85" fill="#000"/><rect x="283.50" y="568.36" width="10.90" height="1.85" fill="#000"/><rect x="283.50" y="575.24" width="10.90" height="1.85" fill="#000"/><rect x="283.50" y="582.12" width="10.90" height="1.85" fill="#000"/><rect x="283.50" y="589.00" width="10.90" height="1.85" fill="#000"/><rect x="283.50" y="595.88" width="10.90" height="1.85" fill="#000"/><rect x="283.50" y="602.76" width="10.90" height="1.85" fill="#000"/><rect x="283.50" y="609.64" width="10.90" height="1.85" fill="#000"/><rect x="283.50" y="616.52" width="10.90" height="1.85" fill="#000"/><rect x="283.50" y="623.40" width="10.90" height="1.85" fill="#000"/><rect x="283.50" y="630.28" width="10.90" height="1.85" fill="#000"/><rect x="283.20" y="554.70" width="2.40" height="80.70" fill="#000"/><rect x="290.25" y="554.70" width="1.85" height="80.70" fill="#000"/></g><line x1="306.75" y1="566.60" x2="306.75" y2="552.60" stroke="#5a5a5a" stroke-width="1.1"/><line x1="303.55" y1="552.60" x2="309.95" y2="552.60" stroke="#333" stroke-width="1.25"/><rect x="301.30" y="566.60" width="10.90" height="68.80" fill="#fff" stroke="#4a4a4a" stroke-width="1.15"/><clipPath id="c45"><rect x="301.60" y="566.80" width="10.30" height="68.60"/></clipPath><g clip-path="url(#c45)"><rect x="301.30" y="566.30" width="10.90" height="2.30" fill="#000"/><rect x="301.30" y="573.38" width="10.90" height="1.85" fill="#000"/><rect x="301.30" y="580.26" width="10.90" height="1.85" fill="#000"/><rect x="301.30" y="587.14" width="10.90" height="1.85" fill="#000"/><rect x="301.30" y="594.02" width="10.90" height="1.85" fill="#000"/><rect x="301.30" y="600.90" width="10.90" height="1.85" fill="#000"/><rect x="301.30" y="607.78" width="10.90" height="1.85" fill="#000"/><rect x="301.30" y="614.66" width="10.90" height="1.85" fill="#000"/><rect x="301.30" y="621.54" width="10.90" height="1.85" fill="#000"/><rect x="301.30" y="628.42" width="10.90" height="1.85" fill="#000"/><rect x="301.00" y="566.60" width="2.40" height="68.80" fill="#000"/><rect x="308.05" y="566.60" width="1.85" height="68.80" fill="#000"/></g><rect x="53.30" y="447.10" width="270.00" height="188.30" fill="none" stroke="#474747" stroke-width="1.35"/><line x1="53.30" y1="635.40" x2="49.10" y2="635.40" stroke="#474747" stroke-width="1.35"/><text x="46.00" y="640.40" text-anchor="end" font-size="16.5">0</text><line x1="53.30" y1="611.86" x2="51.30" y2="611.86" stroke="#474747" stroke-width="1.35"/><line x1="53.30" y1="588.33" x2="49.10" y2="588.33" stroke="#474747" stroke-width="1.35"/><text x="46.00" y="593.33" text-anchor="end" font-size="16.5">30</text><line x1="53.30" y1="564.79" x2="51.30" y2="564.79" stroke="#474747" stroke-width="1.35"/><line x1="53.30" y1="541.25" x2="49.10" y2="541.25" stroke="#474747" stroke-width="1.35"/><text x="46.00" y="546.25" text-anchor="end" font-size="16.5">60</text><line x1="53.30" y1="517.71" x2="51.30" y2="517.71" stroke="#474747" stroke-width="1.35"/><line x1="53.30" y1="494.18" x2="49.10" y2="494.18" stroke="#474747" stroke-width="1.35"/><text x="46.00" y="499.18" text-anchor="end" font-size="16.5">90</text><line x1="53.30" y1="470.64" x2="51.30" y2="470.64" stroke="#474747" stroke-width="1.35"/><line x1="53.30" y1="447.10" x2="49.10" y2="447.10" stroke="#474747" stroke-width="1.35"/><text x="46.00" y="452.10" text-anchor="end" font-size="16.5">120</text><line x1="71.30" y1="635.40" x2="71.30" y2="638.20" stroke="#474747" stroke-width="1.35"/><line x1="89.30" y1="635.40" x2="89.30" y2="638.20" stroke="#474747" stroke-width="1.35"/><line x1="107.30" y1="635.40" x2="107.30" y2="638.20" stroke="#474747" stroke-width="1.35"/><line x1="125.30" y1="635.40" x2="125.30" y2="638.20" stroke="#474747" stroke-width="1.35"/><line x1="143.30" y1="635.40" x2="143.30" y2="638.20" stroke="#474747" stroke-width="1.35"/><line x1="161.30" y1="635.40" x2="161.30" y2="638.20" stroke="#474747" stroke-width="1.35"/><line x1="179.30" y1="635.40" x2="179.30" y2="638.20" stroke="#474747" stroke-width="1.35"/><line x1="197.30" y1="635.40" x2="197.30" y2="638.20" stroke="#474747" stroke-width="1.35"/><line x1="215.30" y1="635.40" x2="215.30" y2="638.20" stroke="#474747" stroke-width="1.35"/><line x1="233.30" y1="635.40" x2="233.30" y2="638.20" stroke="#474747" stroke-width="1.35"/><line x1="251.30" y1="635.40" x2="251.30" y2="638.20" stroke="#474747" stroke-width="1.35"/><line x1="269.30" y1="635.40" x2="269.30" y2="638.20" stroke="#474747" stroke-width="1.35"/><line x1="287.30" y1="635.40" x2="287.30" y2="638.20" stroke="#474747" stroke-width="1.35"/><line x1="305.30" y1="635.40" x2="305.30" y2="638.20" stroke="#474747" stroke-width="1.35"/><line x1="323.30" y1="635.40" x2="323.30" y2="638.20" stroke="#474747" stroke-width="1.35"/><text x="67.50" y="472.70" font-size="20.3" font-weight="bold">E</text><text transform="translate(11.70,547.00) rotate(-90)" text-anchor="middle" font-size="15.6" textLength="106.5" lengthAdjust="spacingAndGlyphs" y="3.2">GST (U/mg prot)</text><g transform="translate(198.50,478.20)" fill="#151515"><path d="M -0.3 -0.6 L -0.85 -2.6 Q -1.15 -4.3 0 -4.3 Q 1.15 -4.3 0.85 -2.6 L 0.3 -0.6 Z" transform="rotate(0)"/><path d="M -0.3 -0.6 L -0.85 -2.6 Q -1.15 -4.3 0 -4.3 Q 1.15 -4.3 0.85 -2.6 L 0.3 -0.6 Z" transform="rotate(60)"/><path d="M -0.3 -0.6 L -0.85 -2.6 Q -1.15 -4.3 0 -4.3 Q 1.15 -4.3 0.85 -2.6 L 0.3 -0.6 Z" transform="rotate(120)"/><path d="M -0.3 -0.6 L -0.85 -2.6 Q -1.15 -4.3 0 -4.3 Q 1.15 -4.3 0.85 -2.6 L 0.3 -0.6 Z" transform="rotate(180)"/><path d="M -0.3 -0.6 L -0.85 -2.6 Q -1.15 -4.3 0 -4.3 Q 1.15 -4.3 0.85 -2.6 L 0.3 -0.6 Z" transform="rotate(240)"/><path d="M -0.3 -0.6 L -0.85 -2.6 Q -1.15 -4.3 0 -4.3 Q 1.15 -4.3 0.85 -2.6 L 0.3 -0.6 Z" transform="rotate(300)"/><circle r="0.8"/></g><polygon points="272.00,542.70 273.53,547.20 278.28,547.26 274.47,550.10 275.88,554.64 272.00,551.90 268.12,554.64 269.53,550.10 265.72,547.26 270.47,547.20" fill="#000"/><line x1="384.30" y1="432.30" x2="395.90" y2="432.30" stroke="#9a9a9a" stroke-width="1.6"/><text x="424.30" y="436.40" text-anchor="middle" font-size="11.6">L</text><text x="442.40" y="436.40" text-anchor="middle" font-size="11.6">M</text><text x="461.10" y="436.40" text-anchor="middle" font-size="11.6">H</text><line x1="496.20" y1="432.30" x2="507.80" y2="432.30" stroke="#9a9a9a" stroke-width="1.6"/><line x1="513.70" y1="432.30" x2="525.30" y2="432.30" stroke="#9a9a9a" stroke-width="1.6"/><line x1="532.00" y1="432.30" x2="543.60" y2="432.30" stroke="#9a9a9a" stroke-width="1.6"/><text x="577.60" y="436.40" text-anchor="middle" font-size="11.6">L</text><text x="595.60" y="436.40" text-anchor="middle" font-size="11.6">M</text><text x="614.70" y="436.40" text-anchor="middle" font-size="11.6">H</text><text x="628.55" y="436.40" text-anchor="start" font-size="11.6">PHO</text><line x1="384.30" y1="447.30" x2="395.90" y2="447.30" stroke="#9a9a9a" stroke-width="1.6"/><line x1="420.20" y1="447.30" x2="431.80" y2="447.30" stroke="#9a9a9a" stroke-width="1.6"/><line x1="438.60" y1="447.30" x2="450.20" y2="447.30" stroke="#9a9a9a" stroke-width="1.6"/><line x1="456.50" y1="447.30" x2="468.10" y2="447.30" stroke="#9a9a9a" stroke-width="1.6"/><text x="502.60" y="451.40" text-anchor="middle" font-size="11.6">L</text><text x="520.30" y="451.40" text-anchor="middle" font-size="11.6">M</text><text x="539.60" y="451.40" text-anchor="middle" font-size="11.6">H</text><text x="577.60" y="451.40" text-anchor="middle" font-size="11.6">L</text><text x="595.60" y="451.40" text-anchor="middle" font-size="11.6">M</text><text x="614.70" y="451.40" text-anchor="middle" font-size="11.6">H</text><text x="628.55" y="451.40" text-anchor="start" font-size="11.6">DEL</text><text x="54.15" y="653.80" text-anchor="start" font-size="11.6">PHO</text><line x1="83.70" y1="649.70" x2="95.30" y2="649.70" stroke="#9a9a9a" stroke-width="1.6"/><text x="123.50" y="653.80" text-anchor="middle" font-size="11.6">L</text><text x="141.40" y="653.80" text-anchor="middle" font-size="11.6">M</text><text x="160.20" y="653.80" text-anchor="middle" font-size="11.6">H</text><line x1="192.20" y1="649.70" x2="203.80" y2="649.70" stroke="#9a9a9a" stroke-width="1.6"/><line x1="210.00" y1="649.70" x2="221.60" y2="649.70" stroke="#9a9a9a" stroke-width="1.6"/><line x1="228.20" y1="649.70" x2="239.80" y2="649.70" stroke="#9a9a9a" stroke-width="1.6"/><text x="271.20" y="653.80" text-anchor="middle" font-size="11.6">L</text><text x="289.00" y="653.80" text-anchor="middle" font-size="11.6">M</text><text x="307.80" y="653.80" text-anchor="middle" font-size="11.6">H</text><text x="54.15" y="668.40" text-anchor="start" font-size="11.6">DEL</text><line x1="83.40" y1="664.30" x2="95.00" y2="664.30" stroke="#9a9a9a" stroke-width="1.6"/><line x1="119.30" y1="664.30" x2="130.90" y2="664.30" stroke="#9a9a9a" stroke-width="1.6"/><line x1="137.50" y1="664.30" x2="149.10" y2="664.30" stroke="#9a9a9a" stroke-width="1.6"/><line x1="155.40" y1="664.30" x2="167.00" y2="664.30" stroke="#9a9a9a" stroke-width="1.6"/><text x="198.40" y="668.40" text-anchor="middle" font-size="11.6">L</text><text x="216.20" y="668.40" text-anchor="middle" font-size="11.6">M</text><text x="234.80" y="668.40" text-anchor="middle" font-size="11.6">H</text><text x="271.20" y="668.40" text-anchor="middle" font-size="11.6">L</text><text x="289.00" y="668.40" text-anchor="middle" font-size="11.6">M</text><text x="307.80" y="668.40" text-anchor="middle" font-size="11.6">H</text></svg></body></html>
